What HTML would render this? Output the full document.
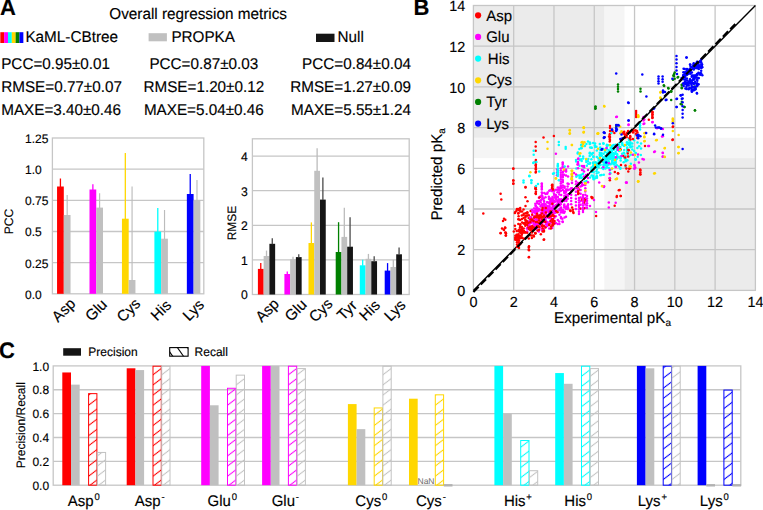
<!DOCTYPE html>
<html><head><meta charset="utf-8"><style>
html,body{margin:0;padding:0;background:#fff;overflow:hidden;}
svg{display:block;font-family:"Liberation Sans", sans-serif;text-rendering:geometricPrecision;}
text{stroke:#000;stroke-width:0.15px;}
</style></head><body>
<svg width="763" height="510" viewBox="0 0 763 510">
<rect width="763" height="510" fill="#fff"/>
<text transform="translate(0.10,15.30) scale(1,1.02)" font-size="22" text-anchor="start" font-weight="bold" fill="#000" >A</text>
<text transform="translate(109.30,18.90) scale(1,1.02)" font-size="15.3" text-anchor="start" font-weight="normal" fill="#000" >Overall regression metrics</text>
<rect x="0.30" y="32.20" width="3.88" height="10.80" fill="#ff0000" />
<rect x="4.13" y="32.20" width="3.88" height="10.80" fill="#ff00ff" />
<rect x="7.97" y="32.20" width="3.88" height="10.80" fill="#00ffff" />
<rect x="11.80" y="32.20" width="3.88" height="10.80" fill="#ffd700" />
<rect x="15.63" y="32.20" width="3.88" height="10.80" fill="#008000" />
<rect x="19.47" y="32.20" width="3.88" height="10.80" fill="#0000ff" />
<text transform="translate(25.40,42.40) scale(1,1.02)" font-size="15.3" text-anchor="start" font-weight="normal" fill="#000" >KaML-CBtree</text>
<rect x="148.60" y="33.20" width="18.30" height="8.10" fill="#c0c0c0" />
<text transform="translate(171.40,42.40) scale(1,1.02)" font-size="15.25" text-anchor="start" font-weight="normal" fill="#000" >PROPKA</text>
<rect x="316.00" y="33.70" width="18.50" height="8.30" fill="#151515" />
<text transform="translate(337.60,42.40) scale(1,1.02)" font-size="15.25" text-anchor="start" font-weight="normal" fill="#000" >Null</text>
<text transform="translate(1.20,68.60) scale(1,1.02)" font-size="15.25" text-anchor="start" font-weight="normal" fill="#000" >PCC=0.95±0.01</text>
<text transform="translate(203.80,68.60) scale(1,1.02)" font-size="15.25" text-anchor="middle" font-weight="normal" fill="#000" >PCC=0.87±0.03</text>
<text transform="translate(410.90,68.60) scale(1,1.02)" font-size="15.25" text-anchor="end" font-weight="normal" fill="#000" >PCC=0.84±0.04</text>
<text transform="translate(1.20,91.80) scale(1,1.02)" font-size="15.25" text-anchor="start" font-weight="normal" fill="#000" >RMSE=0.77±0.07</text>
<text transform="translate(203.80,91.80) scale(1,1.02)" font-size="15.25" text-anchor="middle" font-weight="normal" fill="#000" >RMSE=1.20±0.12</text>
<text transform="translate(410.90,91.80) scale(1,1.02)" font-size="15.25" text-anchor="end" font-weight="normal" fill="#000" >RMSE=1.27±0.09</text>
<text transform="translate(1.20,114.90) scale(1,1.02)" font-size="15.25" text-anchor="start" font-weight="normal" fill="#000" >MAXE=3.40±0.46</text>
<text transform="translate(203.80,114.90) scale(1,1.02)" font-size="15.25" text-anchor="middle" font-weight="normal" fill="#000" >MAXE=5.04±0.46</text>
<text transform="translate(410.90,114.90) scale(1,1.02)" font-size="15.25" text-anchor="end" font-weight="normal" fill="#000" >MAXE=5.55±1.24</text>
<line x1="52.40" y1="262.64" x2="203.80" y2="262.64" stroke="#c6c6c6" stroke-width="1.3" />
<line x1="52.40" y1="231.48" x2="203.80" y2="231.48" stroke="#c6c6c6" stroke-width="1.3" />
<line x1="52.40" y1="200.32" x2="203.80" y2="200.32" stroke="#c6c6c6" stroke-width="1.3" />
<line x1="52.40" y1="169.16" x2="203.80" y2="169.16" stroke="#c6c6c6" stroke-width="1.3" />
<rect x="52.40" y="138.00" width="151.40" height="155.80" fill="none" stroke="#c6c6c6" stroke-width="1.3"/>
<text transform="translate(25.00,298.70) scale(1,1.02)" font-size="12" text-anchor="start" font-weight="normal" fill="#000" >0.0</text>
<text transform="translate(25.00,267.54) scale(1,1.02)" font-size="12" text-anchor="start" font-weight="normal" fill="#000" >0.25</text>
<text transform="translate(25.00,236.38) scale(1,1.02)" font-size="12" text-anchor="start" font-weight="normal" fill="#000" >0.5</text>
<text transform="translate(25.00,205.22) scale(1,1.02)" font-size="12" text-anchor="start" font-weight="normal" fill="#000" >0.75</text>
<text transform="translate(25.00,174.06) scale(1,1.02)" font-size="12" text-anchor="start" font-weight="normal" fill="#000" >1.0</text>
<text transform="translate(25.00,142.90) scale(1,1.02)" font-size="12" text-anchor="start" font-weight="normal" fill="#000" >1.25</text>
<text transform="translate(13.3,221.5) rotate(-90) scale(1,1.02)" font-size="12" text-anchor="middle">PCC</text>
<rect x="57.05" y="186.50" width="6.75" height="107.30" fill="#ff0000" />
<line x1="60.42" y1="178.50" x2="60.42" y2="187.00" stroke="#ff0000" stroke-width="1.3" />
<rect x="63.80" y="215.00" width="6.75" height="78.80" fill="#c0c0c0" />
<line x1="67.17" y1="195.00" x2="67.17" y2="215.50" stroke="#bcbcbc" stroke-width="1.15" />
<rect x="89.50" y="189.50" width="6.75" height="104.30" fill="#ff00ff" />
<line x1="92.88" y1="184.20" x2="92.88" y2="190.00" stroke="#ff00ff" stroke-width="1.3" />
<rect x="96.25" y="207.60" width="6.75" height="86.20" fill="#c0c0c0" />
<line x1="99.62" y1="193.20" x2="99.62" y2="208.10" stroke="#bcbcbc" stroke-width="1.15" />
<rect x="121.95" y="218.70" width="6.75" height="75.10" fill="#ffd700" />
<line x1="125.32" y1="153.00" x2="125.32" y2="219.20" stroke="#ffd700" stroke-width="1.3" />
<rect x="128.70" y="280.00" width="6.75" height="13.80" fill="#c0c0c0" />
<line x1="132.07" y1="186.50" x2="132.07" y2="280.50" stroke="#bcbcbc" stroke-width="1.15" />
<rect x="154.40" y="231.60" width="6.75" height="62.20" fill="#00ffff" />
<line x1="157.78" y1="208.00" x2="157.78" y2="232.10" stroke="#00ffff" stroke-width="1.3" />
<rect x="161.15" y="238.70" width="6.75" height="55.10" fill="#c0c0c0" />
<line x1="164.53" y1="210.00" x2="164.53" y2="239.20" stroke="#bcbcbc" stroke-width="1.15" />
<rect x="186.85" y="194.00" width="6.75" height="99.80" fill="#0000ff" />
<line x1="190.23" y1="174.00" x2="190.23" y2="194.50" stroke="#0000ff" stroke-width="1.3" />
<rect x="193.60" y="200.00" width="6.75" height="93.80" fill="#c0c0c0" />
<line x1="196.98" y1="180.00" x2="196.98" y2="200.50" stroke="#bcbcbc" stroke-width="1.15" />
<text transform="translate(64.00,310.50) rotate(-45) scale(1,1.02)" font-size="15" text-anchor="middle" dominant-baseline="central">Asp</text>
<text transform="translate(96.45,310.50) rotate(-45) scale(1,1.02)" font-size="15" text-anchor="middle" dominant-baseline="central">Glu</text>
<text transform="translate(128.90,310.50) rotate(-45) scale(1,1.02)" font-size="15" text-anchor="middle" dominant-baseline="central">Cys</text>
<text transform="translate(161.35,310.50) rotate(-45) scale(1,1.02)" font-size="15" text-anchor="middle" dominant-baseline="central">His</text>
<text transform="translate(193.80,310.50) rotate(-45) scale(1,1.02)" font-size="15" text-anchor="middle" dominant-baseline="central">Lys</text>
<line x1="252.40" y1="259.90" x2="409.20" y2="259.90" stroke="#c6c6c6" stroke-width="1.3" />
<line x1="252.40" y1="225.30" x2="409.20" y2="225.30" stroke="#c6c6c6" stroke-width="1.3" />
<line x1="252.40" y1="190.70" x2="409.20" y2="190.70" stroke="#c6c6c6" stroke-width="1.3" />
<line x1="252.40" y1="156.10" x2="409.20" y2="156.10" stroke="#c6c6c6" stroke-width="1.3" />
<rect x="252.40" y="138.80" width="156.80" height="155.70" fill="none" stroke="#c6c6c6" stroke-width="1.3"/>
<text transform="translate(247.90,299.30) scale(1,1.02)" font-size="12.2" text-anchor="end" font-weight="normal" fill="#000" >0</text>
<text transform="translate(247.90,264.70) scale(1,1.02)" font-size="12.2" text-anchor="end" font-weight="normal" fill="#000" >1</text>
<text transform="translate(247.90,230.10) scale(1,1.02)" font-size="12.2" text-anchor="end" font-weight="normal" fill="#000" >2</text>
<text transform="translate(247.90,195.50) scale(1,1.02)" font-size="12.2" text-anchor="end" font-weight="normal" fill="#000" >3</text>
<text transform="translate(247.90,160.90) scale(1,1.02)" font-size="12.2" text-anchor="end" font-weight="normal" fill="#000" >4</text>
<text transform="translate(236.0,223.0) rotate(-90) scale(1,1.02)" font-size="12" text-anchor="middle">RMSE</text>
<rect x="257.90" y="268.90" width="5.75" height="25.60" fill="#ff0000" />
<line x1="260.77" y1="263.10" x2="260.77" y2="269.40" stroke="#ff0000" stroke-width="1.3" />
<rect x="263.65" y="256.00" width="5.75" height="38.50" fill="#c0c0c0" />
<line x1="266.52" y1="250.60" x2="266.52" y2="256.50" stroke="#bcbcbc" stroke-width="1.3" />
<rect x="269.40" y="243.80" width="5.75" height="50.70" fill="#151515" />
<line x1="272.27" y1="238.30" x2="272.27" y2="244.30" stroke="#4a4a4a" stroke-width="1.3" />
<rect x="284.40" y="274.00" width="5.75" height="20.50" fill="#ff00ff" />
<line x1="287.27" y1="271.40" x2="287.27" y2="274.50" stroke="#ff00ff" stroke-width="1.3" />
<rect x="290.15" y="259.20" width="5.75" height="35.30" fill="#c0c0c0" />
<line x1="293.02" y1="256.80" x2="293.02" y2="259.70" stroke="#bcbcbc" stroke-width="1.3" />
<rect x="295.90" y="257.10" width="5.75" height="37.40" fill="#151515" />
<line x1="298.77" y1="254.20" x2="298.77" y2="257.60" stroke="#4a4a4a" stroke-width="1.3" />
<rect x="308.50" y="243.00" width="5.75" height="51.50" fill="#ffd700" />
<line x1="311.38" y1="222.40" x2="311.38" y2="243.50" stroke="#ffd700" stroke-width="1.3" />
<rect x="314.25" y="170.80" width="5.75" height="123.70" fill="#c0c0c0" />
<line x1="317.12" y1="148.20" x2="317.12" y2="171.30" stroke="#bcbcbc" stroke-width="1.3" />
<rect x="320.00" y="199.60" width="5.75" height="94.90" fill="#151515" />
<line x1="322.88" y1="177.60" x2="322.88" y2="200.10" stroke="#4a4a4a" stroke-width="1.3" />
<rect x="335.70" y="252.00" width="5.75" height="42.50" fill="#008000" />
<line x1="338.57" y1="222.20" x2="338.57" y2="252.50" stroke="#008000" stroke-width="1.3" />
<rect x="341.45" y="236.90" width="5.75" height="57.60" fill="#c0c0c0" />
<line x1="344.32" y1="207.80" x2="344.32" y2="237.40" stroke="#bcbcbc" stroke-width="1.3" />
<rect x="347.20" y="246.70" width="5.75" height="47.80" fill="#151515" />
<line x1="350.07" y1="217.30" x2="350.07" y2="247.20" stroke="#4a4a4a" stroke-width="1.3" />
<rect x="359.80" y="265.30" width="5.75" height="29.20" fill="#00ffff" />
<line x1="362.68" y1="259.80" x2="362.68" y2="265.80" stroke="#00ffff" stroke-width="1.3" />
<rect x="365.55" y="258.80" width="5.75" height="35.70" fill="#c0c0c0" />
<line x1="368.43" y1="253.90" x2="368.43" y2="259.30" stroke="#bcbcbc" stroke-width="1.3" />
<rect x="371.30" y="261.20" width="5.75" height="33.30" fill="#151515" />
<line x1="374.18" y1="256.30" x2="374.18" y2="261.70" stroke="#4a4a4a" stroke-width="1.3" />
<rect x="384.70" y="270.60" width="5.75" height="23.90" fill="#0000ff" />
<line x1="387.57" y1="263.10" x2="387.57" y2="271.10" stroke="#0000ff" stroke-width="1.3" />
<rect x="390.45" y="267.00" width="5.75" height="27.50" fill="#c0c0c0" />
<line x1="393.32" y1="259.80" x2="393.32" y2="267.50" stroke="#bcbcbc" stroke-width="1.3" />
<rect x="396.20" y="254.30" width="5.75" height="40.20" fill="#151515" />
<line x1="399.07" y1="247.50" x2="399.07" y2="254.80" stroke="#4a4a4a" stroke-width="1.3" />
<text transform="translate(267.52,310.70) rotate(-45) scale(1,1.02)" font-size="15" text-anchor="middle" dominant-baseline="central">Asp</text>
<text transform="translate(296.12,310.70) rotate(-45) scale(1,1.02)" font-size="15" text-anchor="middle" dominant-baseline="central">Glu</text>
<text transform="translate(321.12,310.70) rotate(-45) scale(1,1.02)" font-size="15" text-anchor="middle" dominant-baseline="central">Cys</text>
<text transform="translate(347.32,310.70) rotate(-45) scale(1,1.02)" font-size="15" text-anchor="middle" dominant-baseline="central">Tyr</text>
<text transform="translate(370.03,310.70) rotate(-45) scale(1,1.02)" font-size="15" text-anchor="middle" dominant-baseline="central">His</text>
<text transform="translate(395.22,310.70) rotate(-45) scale(1,1.02)" font-size="15" text-anchor="middle" dominant-baseline="central">Lys</text>
<text transform="translate(413.60,15.30) scale(1,1.02)" font-size="22" text-anchor="start" font-weight="bold" fill="#000" >B</text>
<rect x="604.33" y="5.50" width="20.14" height="132.27" fill="#f5f5f5" />
<rect x="473.40" y="137.77" width="130.93" height="20.35" fill="#f5f5f5" />
<rect x="624.47" y="137.77" width="130.93" height="20.35" fill="#f5f5f5" />
<rect x="604.33" y="158.12" width="20.14" height="132.28" fill="#f5f5f5" />
<rect x="473.40" y="5.50" width="130.93" height="132.27" fill="#ebebeb" />
<rect x="624.47" y="158.12" width="130.93" height="132.28" fill="#ebebeb" />
<line x1="513.69" y1="5.50" x2="513.69" y2="290.40" stroke="#c6c6c6" stroke-width="1.3" />
<line x1="473.40" y1="249.70" x2="755.40" y2="249.70" stroke="#c6c6c6" stroke-width="1.3" />
<line x1="553.97" y1="5.50" x2="553.97" y2="290.40" stroke="#c6c6c6" stroke-width="1.3" />
<line x1="473.40" y1="209.00" x2="755.40" y2="209.00" stroke="#c6c6c6" stroke-width="1.3" />
<line x1="594.26" y1="5.50" x2="594.26" y2="290.40" stroke="#c6c6c6" stroke-width="1.3" />
<line x1="473.40" y1="168.30" x2="755.40" y2="168.30" stroke="#c6c6c6" stroke-width="1.3" />
<line x1="634.54" y1="5.50" x2="634.54" y2="290.40" stroke="#c6c6c6" stroke-width="1.3" />
<line x1="473.40" y1="127.60" x2="755.40" y2="127.60" stroke="#c6c6c6" stroke-width="1.3" />
<line x1="674.83" y1="5.50" x2="674.83" y2="290.40" stroke="#c6c6c6" stroke-width="1.3" />
<line x1="473.40" y1="86.90" x2="755.40" y2="86.90" stroke="#c6c6c6" stroke-width="1.3" />
<line x1="715.11" y1="5.50" x2="715.11" y2="290.40" stroke="#c6c6c6" stroke-width="1.3" />
<line x1="473.40" y1="46.20" x2="755.40" y2="46.20" stroke="#c6c6c6" stroke-width="1.3" />
<rect x="473.40" y="5.50" width="282.00" height="284.90" fill="none" stroke="#c6c6c6" stroke-width="1.3"/>
<text transform="translate(473.40,307.00) scale(1,1.02)" font-size="14.4" text-anchor="middle" font-weight="normal" fill="#000" >0</text>
<text transform="translate(465.20,296.00) scale(1,1.02)" font-size="14.4" text-anchor="end" font-weight="normal" fill="#000" >0</text>
<text transform="translate(513.69,307.00) scale(1,1.02)" font-size="14.4" text-anchor="middle" font-weight="normal" fill="#000" >2</text>
<text transform="translate(465.20,255.30) scale(1,1.02)" font-size="14.4" text-anchor="end" font-weight="normal" fill="#000" >2</text>
<text transform="translate(553.97,307.00) scale(1,1.02)" font-size="14.4" text-anchor="middle" font-weight="normal" fill="#000" >4</text>
<text transform="translate(465.20,214.60) scale(1,1.02)" font-size="14.4" text-anchor="end" font-weight="normal" fill="#000" >4</text>
<text transform="translate(594.26,307.00) scale(1,1.02)" font-size="14.4" text-anchor="middle" font-weight="normal" fill="#000" >6</text>
<text transform="translate(465.20,173.90) scale(1,1.02)" font-size="14.4" text-anchor="end" font-weight="normal" fill="#000" >6</text>
<text transform="translate(634.54,307.00) scale(1,1.02)" font-size="14.4" text-anchor="middle" font-weight="normal" fill="#000" >8</text>
<text transform="translate(465.20,133.20) scale(1,1.02)" font-size="14.4" text-anchor="end" font-weight="normal" fill="#000" >8</text>
<text transform="translate(674.83,307.00) scale(1,1.02)" font-size="14.4" text-anchor="middle" font-weight="normal" fill="#000" >10</text>
<text transform="translate(465.20,92.50) scale(1,1.02)" font-size="14.4" text-anchor="end" font-weight="normal" fill="#000" >10</text>
<text transform="translate(715.11,307.00) scale(1,1.02)" font-size="14.4" text-anchor="middle" font-weight="normal" fill="#000" >12</text>
<text transform="translate(465.20,51.80) scale(1,1.02)" font-size="14.4" text-anchor="end" font-weight="normal" fill="#000" >12</text>
<text transform="translate(755.40,307.00) scale(1,1.02)" font-size="14.4" text-anchor="middle" font-weight="normal" fill="#000" >14</text>
<text transform="translate(465.20,11.10) scale(1,1.02)" font-size="14.4" text-anchor="end" font-weight="normal" fill="#000" >14</text>
<text transform="translate(554.0,322.8) scale(1,1.02)" font-size="15.2">Experimental pK<tspan font-size="10" dy="3">a</tspan></text>
<text transform="translate(442.3,220.6) rotate(-90) scale(1,1.02)" font-size="15.2">Predicted pK<tspan font-size="10" dy="3">a</tspan></text>
<line x1="473.40" y1="290.40" x2="755.40" y2="5.50" stroke="#000" stroke-width="1.4" />
<g><circle cx="595.1" cy="143.5" r="1.25" fill="#00ffff"/><circle cx="576.2" cy="161.5" r="1.25" fill="#00ffff"/><circle cx="576.0" cy="160.1" r="1.25" fill="#00ffff"/><circle cx="601.6" cy="175.0" r="1.25" fill="#00ffff"/><circle cx="586.8" cy="165.7" r="1.25" fill="#00ffff"/><circle cx="612.3" cy="155.0" r="1.25" fill="#00ffff"/><circle cx="629.0" cy="144.9" r="1.25" fill="#00ffff"/><circle cx="617.1" cy="153.9" r="1.25" fill="#00ffff"/><circle cx="620.4" cy="156.4" r="1.25" fill="#00ffff"/><circle cx="613.6" cy="157.6" r="1.25" fill="#00ffff"/><circle cx="612.2" cy="161.0" r="1.25" fill="#00ffff"/><circle cx="624.2" cy="149.9" r="1.25" fill="#00ffff"/><circle cx="579.9" cy="156.0" r="1.25" fill="#00ffff"/><circle cx="581.1" cy="159.3" r="1.25" fill="#00ffff"/><circle cx="634.2" cy="151.1" r="1.25" fill="#00ffff"/><circle cx="613.7" cy="163.5" r="1.25" fill="#00ffff"/><circle cx="591.7" cy="154.5" r="1.25" fill="#00ffff"/><circle cx="581.3" cy="148.0" r="1.25" fill="#00ffff"/><circle cx="634.1" cy="140.3" r="1.25" fill="#00ffff"/><circle cx="632.3" cy="149.5" r="1.25" fill="#00ffff"/><circle cx="597.0" cy="177.7" r="1.25" fill="#00ffff"/><circle cx="581.2" cy="144.7" r="1.25" fill="#00ffff"/><circle cx="588.3" cy="159.1" r="1.25" fill="#00ffff"/><circle cx="598.7" cy="162.9" r="1.25" fill="#00ffff"/><circle cx="620.6" cy="160.5" r="1.25" fill="#00ffff"/><circle cx="599.9" cy="155.1" r="1.25" fill="#00ffff"/><circle cx="586.4" cy="144.1" r="1.25" fill="#00ffff"/><circle cx="577.7" cy="153.4" r="1.25" fill="#00ffff"/><circle cx="589.8" cy="152.7" r="1.25" fill="#00ffff"/><circle cx="580.0" cy="176.1" r="1.25" fill="#00ffff"/><circle cx="605.0" cy="159.0" r="1.25" fill="#00ffff"/><circle cx="577.9" cy="152.5" r="1.25" fill="#00ffff"/><circle cx="630.4" cy="144.0" r="1.25" fill="#00ffff"/><circle cx="589.7" cy="153.6" r="1.25" fill="#00ffff"/><circle cx="625.8" cy="161.3" r="1.25" fill="#00ffff"/><circle cx="595.2" cy="146.9" r="1.25" fill="#00ffff"/><circle cx="608.3" cy="153.1" r="1.25" fill="#00ffff"/><circle cx="596.5" cy="146.8" r="1.25" fill="#00ffff"/><circle cx="584.9" cy="146.0" r="1.25" fill="#00ffff"/><circle cx="625.4" cy="158.8" r="1.25" fill="#00ffff"/><circle cx="627.5" cy="152.0" r="1.25" fill="#00ffff"/><circle cx="640.8" cy="154.9" r="1.25" fill="#00ffff"/><circle cx="629.2" cy="143.3" r="1.25" fill="#00ffff"/><circle cx="637.7" cy="156.7" r="1.25" fill="#00ffff"/><circle cx="630.6" cy="146.3" r="1.25" fill="#00ffff"/><circle cx="591.7" cy="147.7" r="1.25" fill="#00ffff"/><circle cx="589.7" cy="156.0" r="1.25" fill="#00ffff"/><circle cx="635.8" cy="153.0" r="1.25" fill="#00ffff"/><circle cx="583.2" cy="158.6" r="1.25" fill="#00ffff"/><circle cx="610.3" cy="151.7" r="1.25" fill="#00ffff"/><circle cx="610.1" cy="173.0" r="1.25" fill="#00ffff"/><circle cx="611.9" cy="148.1" r="1.25" fill="#00ffff"/><circle cx="627.3" cy="160.2" r="1.25" fill="#00ffff"/><circle cx="615.4" cy="160.1" r="1.25" fill="#00ffff"/><circle cx="620.5" cy="157.6" r="1.25" fill="#00ffff"/><circle cx="583.2" cy="169.9" r="1.25" fill="#00ffff"/><circle cx="581.7" cy="177.6" r="1.25" fill="#00ffff"/><circle cx="586.4" cy="180.9" r="1.25" fill="#00ffff"/><circle cx="583.1" cy="156.6" r="1.25" fill="#00ffff"/><circle cx="594.9" cy="145.6" r="1.25" fill="#00ffff"/><circle cx="615.1" cy="160.4" r="1.25" fill="#00ffff"/><circle cx="579.4" cy="148.9" r="1.25" fill="#00ffff"/><circle cx="627.1" cy="149.1" r="1.25" fill="#00ffff"/><circle cx="590.2" cy="143.5" r="1.25" fill="#00ffff"/><circle cx="611.8" cy="169.1" r="1.25" fill="#00ffff"/><circle cx="576.3" cy="168.6" r="1.25" fill="#00ffff"/><circle cx="629.2" cy="140.4" r="1.25" fill="#00ffff"/><circle cx="576.3" cy="176.7" r="1.25" fill="#00ffff"/><circle cx="595.3" cy="162.3" r="1.25" fill="#00ffff"/><circle cx="589.9" cy="142.5" r="1.25" fill="#00ffff"/><circle cx="588.0" cy="141.6" r="1.25" fill="#00ffff"/><circle cx="593.2" cy="171.9" r="1.25" fill="#00ffff"/><circle cx="606.8" cy="144.8" r="1.25" fill="#00ffff"/><circle cx="623.7" cy="162.2" r="1.25" fill="#00ffff"/><circle cx="629.0" cy="156.6" r="1.25" fill="#00ffff"/><circle cx="630.7" cy="154.8" r="1.25" fill="#00ffff"/><circle cx="599.8" cy="152.7" r="1.25" fill="#00ffff"/><circle cx="589.7" cy="144.1" r="1.25" fill="#00ffff"/><circle cx="591.5" cy="147.8" r="1.25" fill="#00ffff"/><circle cx="603.5" cy="143.8" r="1.25" fill="#00ffff"/><circle cx="610.6" cy="147.9" r="1.25" fill="#00ffff"/><circle cx="593.0" cy="153.1" r="1.25" fill="#00ffff"/><circle cx="598.4" cy="158.6" r="1.25" fill="#00ffff"/><circle cx="586.2" cy="160.0" r="1.25" fill="#00ffff"/><circle cx="588.2" cy="163.8" r="1.25" fill="#00ffff"/><circle cx="625.7" cy="167.1" r="1.25" fill="#00ffff"/><circle cx="634.0" cy="154.7" r="1.25" fill="#00ffff"/><circle cx="641.0" cy="143.5" r="1.25" fill="#00ffff"/><circle cx="629.0" cy="143.0" r="1.25" fill="#00ffff"/><circle cx="630.9" cy="163.7" r="1.25" fill="#00ffff"/><circle cx="620.3" cy="168.8" r="1.25" fill="#00ffff"/><circle cx="579.7" cy="175.4" r="1.25" fill="#00ffff"/><circle cx="615.5" cy="165.7" r="1.25" fill="#00ffff"/><circle cx="625.6" cy="159.9" r="1.25" fill="#00ffff"/><circle cx="624.0" cy="146.1" r="1.25" fill="#00ffff"/><circle cx="605.4" cy="168.4" r="1.25" fill="#00ffff"/><circle cx="615.1" cy="166.5" r="1.25" fill="#00ffff"/><circle cx="581.5" cy="148.3" r="1.25" fill="#00ffff"/><circle cx="593.0" cy="163.0" r="1.25" fill="#00ffff"/><circle cx="620.4" cy="168.0" r="1.25" fill="#00ffff"/><circle cx="608.6" cy="158.2" r="1.25" fill="#00ffff"/><circle cx="579.5" cy="178.1" r="1.25" fill="#00ffff"/><circle cx="603.8" cy="174.7" r="1.25" fill="#00ffff"/><circle cx="603.3" cy="149.0" r="1.25" fill="#00ffff"/><circle cx="639.2" cy="146.3" r="1.25" fill="#00ffff"/><circle cx="581.7" cy="160.9" r="1.25" fill="#00ffff"/><circle cx="581.4" cy="174.7" r="1.25" fill="#00ffff"/><circle cx="635.5" cy="159.2" r="1.25" fill="#00ffff"/><circle cx="593.2" cy="143.1" r="1.25" fill="#00ffff"/><circle cx="593.0" cy="175.7" r="1.25" fill="#00ffff"/><circle cx="591.5" cy="153.8" r="1.25" fill="#00ffff"/><circle cx="601.5" cy="149.3" r="1.25" fill="#00ffff"/><circle cx="577.9" cy="175.4" r="1.25" fill="#00ffff"/><circle cx="637.4" cy="148.1" r="1.25" fill="#00ffff"/><circle cx="608.5" cy="145.3" r="1.25" fill="#00ffff"/><circle cx="610.0" cy="170.0" r="1.25" fill="#00ffff"/><circle cx="624.1" cy="157.5" r="1.25" fill="#00ffff"/><circle cx="616.8" cy="149.8" r="1.25" fill="#00ffff"/><circle cx="637.5" cy="142.4" r="1.25" fill="#00ffff"/><circle cx="596.8" cy="150.4" r="1.25" fill="#00ffff"/><circle cx="641.0" cy="148.6" r="1.25" fill="#00ffff"/><circle cx="593.2" cy="162.5" r="1.25" fill="#00ffff"/><circle cx="582.9" cy="144.0" r="1.25" fill="#00ffff"/><circle cx="635.6" cy="159.7" r="1.25" fill="#00ffff"/><circle cx="581.2" cy="145.5" r="1.25" fill="#00ffff"/><circle cx="590.1" cy="163.0" r="1.25" fill="#00ffff"/><circle cx="625.5" cy="155.7" r="1.25" fill="#00ffff"/><circle cx="608.5" cy="154.1" r="1.25" fill="#00ffff"/><circle cx="579.8" cy="160.0" r="1.25" fill="#00ffff"/><circle cx="632.3" cy="146.6" r="1.25" fill="#00ffff"/><circle cx="612.0" cy="160.8" r="1.25" fill="#00ffff"/><circle cx="610.4" cy="154.4" r="1.25" fill="#00ffff"/><circle cx="615.5" cy="144.8" r="1.25" fill="#00ffff"/><circle cx="619.1" cy="146.4" r="1.25" fill="#00ffff"/><circle cx="610.1" cy="158.8" r="1.25" fill="#00ffff"/><circle cx="591.9" cy="172.1" r="1.25" fill="#00ffff"/><circle cx="600.3" cy="154.2" r="1.25" fill="#00ffff"/><circle cx="596.4" cy="171.3" r="1.25" fill="#00ffff"/><circle cx="607.2" cy="152.7" r="1.25" fill="#00ffff"/><circle cx="599.9" cy="159.9" r="1.25" fill="#00ffff"/><circle cx="613.8" cy="162.7" r="1.25" fill="#00ffff"/><circle cx="612.0" cy="154.9" r="1.25" fill="#00ffff"/><circle cx="596.5" cy="164.2" r="1.25" fill="#00ffff"/><circle cx="606.8" cy="157.9" r="1.25" fill="#00ffff"/><circle cx="613.5" cy="145.1" r="1.25" fill="#00ffff"/><circle cx="618.9" cy="166.4" r="1.25" fill="#00ffff"/><circle cx="608.6" cy="158.5" r="1.25" fill="#00ffff"/><circle cx="600.0" cy="158.4" r="1.25" fill="#00ffff"/><circle cx="588.0" cy="161.3" r="1.25" fill="#00ffff"/><circle cx="618.8" cy="148.3" r="1.25" fill="#00ffff"/><circle cx="603.7" cy="157.5" r="1.25" fill="#00ffff"/><circle cx="601.6" cy="153.3" r="1.25" fill="#00ffff"/><circle cx="617.3" cy="147.4" r="1.25" fill="#00ffff"/><circle cx="612.2" cy="158.8" r="1.25" fill="#00ffff"/><circle cx="610.3" cy="173.5" r="1.25" fill="#00ffff"/><circle cx="613.7" cy="156.7" r="1.25" fill="#00ffff"/><circle cx="586.3" cy="162.0" r="1.25" fill="#00ffff"/><circle cx="603.8" cy="164.4" r="1.25" fill="#00ffff"/><circle cx="611.7" cy="155.8" r="1.25" fill="#00ffff"/><circle cx="590.2" cy="147.6" r="1.25" fill="#00ffff"/><circle cx="607.2" cy="162.4" r="1.25" fill="#00ffff"/><circle cx="607.0" cy="156.1" r="1.25" fill="#00ffff"/><circle cx="603.4" cy="167.0" r="1.25" fill="#00ffff"/><circle cx="608.5" cy="156.9" r="1.25" fill="#00ffff"/><circle cx="613.6" cy="149.4" r="1.25" fill="#00ffff"/><circle cx="620.4" cy="146.9" r="1.25" fill="#00ffff"/><circle cx="611.9" cy="149.7" r="1.25" fill="#00ffff"/><circle cx="610.2" cy="154.3" r="1.25" fill="#00ffff"/><circle cx="612.3" cy="153.6" r="1.25" fill="#00ffff"/><circle cx="613.9" cy="164.2" r="1.25" fill="#00ffff"/><circle cx="607.2" cy="164.1" r="1.25" fill="#00ffff"/><circle cx="600.2" cy="161.1" r="1.25" fill="#00ffff"/><circle cx="606.6" cy="163.3" r="1.25" fill="#00ffff"/><circle cx="600.2" cy="147.5" r="1.25" fill="#00ffff"/><circle cx="610.1" cy="154.5" r="1.25" fill="#00ffff"/><circle cx="603.5" cy="165.0" r="1.25" fill="#00ffff"/><circle cx="584.6" cy="181.7" r="1.25" fill="#00ffff"/><circle cx="607.1" cy="145.3" r="1.25" fill="#00ffff"/><circle cx="605.1" cy="149.7" r="1.25" fill="#00ffff"/><circle cx="607.1" cy="164.6" r="1.25" fill="#00ffff"/><circle cx="615.6" cy="152.0" r="1.25" fill="#00ffff"/><circle cx="610.0" cy="158.4" r="1.25" fill="#00ffff"/><circle cx="598.7" cy="164.8" r="1.25" fill="#00ffff"/><circle cx="613.7" cy="153.8" r="1.25" fill="#00ffff"/><circle cx="601.6" cy="155.8" r="1.25" fill="#00ffff"/><circle cx="598.5" cy="172.5" r="1.25" fill="#00ffff"/><circle cx="600.2" cy="149.7" r="1.25" fill="#00ffff"/><circle cx="627.2" cy="147.4" r="1.25" fill="#00ffff"/><circle cx="596.8" cy="164.8" r="1.25" fill="#00ffff"/><circle cx="613.5" cy="157.3" r="1.25" fill="#00ffff"/><circle cx="627.3" cy="151.1" r="1.25" fill="#00ffff"/><circle cx="607.2" cy="165.4" r="1.25" fill="#00ffff"/><circle cx="600.3" cy="164.6" r="1.25" fill="#00ffff"/><circle cx="579.5" cy="165.8" r="1.25" fill="#00ffff"/><circle cx="590.1" cy="177.5" r="1.25" fill="#00ffff"/><circle cx="610.2" cy="153.8" r="1.25" fill="#00ffff"/><circle cx="615.7" cy="153.7" r="1.25" fill="#00ffff"/><circle cx="583.0" cy="173.7" r="1.25" fill="#00ffff"/><circle cx="611.9" cy="146.1" r="1.25" fill="#00ffff"/><circle cx="603.3" cy="143.3" r="1.25" fill="#00ffff"/><circle cx="593.1" cy="166.1" r="1.25" fill="#00ffff"/><circle cx="605.0" cy="162.6" r="1.25" fill="#00ffff"/><circle cx="612.1" cy="162.7" r="1.25" fill="#00ffff"/><circle cx="608.5" cy="157.1" r="1.25" fill="#00ffff"/><circle cx="603.4" cy="157.7" r="1.25" fill="#00ffff"/><circle cx="620.5" cy="158.2" r="1.25" fill="#00ffff"/><circle cx="613.6" cy="153.2" r="1.25" fill="#00ffff"/><circle cx="591.4" cy="169.7" r="1.25" fill="#00ffff"/><circle cx="622.1" cy="153.7" r="1.25" fill="#00ffff"/><circle cx="608.9" cy="162.2" r="1.25" fill="#00ffff"/><circle cx="606.8" cy="166.9" r="1.25" fill="#00ffff"/><circle cx="593.6" cy="179.2" r="1.25" fill="#00ffff"/><circle cx="605.3" cy="163.6" r="1.25" fill="#00ffff"/><circle cx="608.8" cy="157.1" r="1.25" fill="#00ffff"/><circle cx="593.2" cy="177.8" r="1.25" fill="#00ffff"/><circle cx="613.5" cy="145.4" r="1.25" fill="#00ffff"/><circle cx="622.3" cy="144.1" r="1.25" fill="#00ffff"/><circle cx="610.4" cy="152.2" r="1.25" fill="#00ffff"/><circle cx="603.3" cy="169.0" r="1.25" fill="#00ffff"/><circle cx="610.6" cy="164.3" r="1.25" fill="#00ffff"/><circle cx="620.7" cy="150.3" r="1.25" fill="#00ffff"/><circle cx="613.5" cy="149.6" r="1.25" fill="#00ffff"/><circle cx="623.7" cy="152.8" r="1.25" fill="#00ffff"/><circle cx="595.2" cy="178.2" r="1.25" fill="#00ffff"/><circle cx="613.6" cy="156.4" r="1.25" fill="#00ffff"/><circle cx="596.5" cy="166.9" r="1.25" fill="#00ffff"/><circle cx="615.6" cy="162.9" r="1.25" fill="#00ffff"/><circle cx="622.4" cy="145.1" r="1.25" fill="#00ffff"/><circle cx="628.8" cy="139.1" r="1.25" fill="#00ffff"/><circle cx="595.1" cy="165.0" r="1.25" fill="#00ffff"/><circle cx="608.6" cy="164.6" r="1.25" fill="#00ffff"/><circle cx="596.7" cy="173.5" r="1.25" fill="#00ffff"/><circle cx="607.0" cy="159.5" r="1.25" fill="#00ffff"/><circle cx="600.3" cy="164.9" r="1.25" fill="#00ffff"/><circle cx="605.0" cy="150.6" r="1.25" fill="#00ffff"/><circle cx="603.3" cy="162.3" r="1.25" fill="#00ffff"/><circle cx="605.2" cy="161.9" r="1.25" fill="#00ffff"/><circle cx="605.3" cy="160.0" r="1.25" fill="#00ffff"/><circle cx="625.8" cy="145.1" r="1.25" fill="#00ffff"/><circle cx="605.2" cy="160.4" r="1.25" fill="#00ffff"/><circle cx="608.9" cy="151.9" r="1.25" fill="#00ffff"/><circle cx="624.2" cy="153.4" r="1.25" fill="#00ffff"/><circle cx="619.0" cy="149.4" r="1.25" fill="#00ffff"/><circle cx="627.2" cy="151.7" r="1.25" fill="#00ffff"/><circle cx="608.6" cy="152.6" r="1.25" fill="#00ffff"/><circle cx="613.6" cy="149.4" r="1.25" fill="#00ffff"/><circle cx="598.1" cy="166.2" r="1.25" fill="#00ffff"/><circle cx="612.3" cy="156.5" r="1.25" fill="#00ffff"/><circle cx="591.4" cy="159.2" r="1.25" fill="#00ffff"/><circle cx="606.9" cy="154.0" r="1.25" fill="#00ffff"/><circle cx="598.6" cy="160.8" r="1.25" fill="#00ffff"/><circle cx="593.5" cy="168.4" r="1.25" fill="#00ffff"/><circle cx="596.6" cy="176.2" r="1.25" fill="#00ffff"/><circle cx="622.1" cy="142.8" r="1.25" fill="#00ffff"/><circle cx="605.0" cy="151.8" r="1.25" fill="#00ffff"/><circle cx="607.1" cy="155.9" r="1.25" fill="#00ffff"/><circle cx="614.0" cy="162.9" r="1.25" fill="#00ffff"/><circle cx="591.5" cy="167.5" r="1.25" fill="#00ffff"/><circle cx="610.1" cy="154.2" r="1.25" fill="#00ffff"/><circle cx="596.7" cy="162.7" r="1.25" fill="#00ffff"/><circle cx="611.8" cy="151.3" r="1.25" fill="#00ffff"/><circle cx="604.9" cy="157.6" r="1.25" fill="#00ffff"/><circle cx="606.8" cy="161.5" r="1.25" fill="#00ffff"/><circle cx="615.5" cy="159.8" r="1.25" fill="#00ffff"/><circle cx="617.1" cy="158.0" r="1.25" fill="#00ffff"/><circle cx="630.5" cy="147.3" r="1.25" fill="#00ffff"/><circle cx="612.1" cy="155.6" r="1.25" fill="#00ffff"/><circle cx="608.7" cy="157.7" r="1.25" fill="#00ffff"/><circle cx="596.8" cy="164.7" r="1.25" fill="#00ffff"/><circle cx="616.8" cy="165.2" r="1.25" fill="#00ffff"/><circle cx="596.5" cy="166.8" r="1.25" fill="#00ffff"/><circle cx="627.0" cy="142.2" r="1.25" fill="#00ffff"/><circle cx="581.2" cy="178.0" r="1.25" fill="#00ffff"/><circle cx="617.1" cy="157.5" r="1.25" fill="#00ffff"/><circle cx="589.7" cy="163.7" r="1.25" fill="#00ffff"/><circle cx="608.3" cy="163.3" r="1.25" fill="#00ffff"/><circle cx="591.6" cy="175.4" r="1.25" fill="#00ffff"/><circle cx="610.1" cy="158.1" r="1.25" fill="#00ffff"/><circle cx="618.9" cy="148.5" r="1.25" fill="#00ffff"/><circle cx="593.4" cy="156.9" r="1.25" fill="#00ffff"/><circle cx="612.0" cy="163.3" r="1.25" fill="#00ffff"/><circle cx="606.8" cy="149.3" r="1.25" fill="#00ffff"/><circle cx="582.9" cy="166.4" r="1.25" fill="#00ffff"/><circle cx="608.5" cy="155.2" r="1.25" fill="#00ffff"/><circle cx="615.7" cy="161.9" r="1.25" fill="#00ffff"/><circle cx="603.7" cy="153.8" r="1.25" fill="#00ffff"/><circle cx="607.1" cy="163.2" r="1.25" fill="#00ffff"/><circle cx="593.4" cy="163.7" r="1.25" fill="#00ffff"/><circle cx="619.0" cy="144.6" r="1.25" fill="#00ffff"/><circle cx="593.3" cy="156.5" r="1.25" fill="#00ffff"/><circle cx="600.0" cy="154.2" r="1.25" fill="#00ffff"/><circle cx="616.8" cy="158.8" r="1.25" fill="#00ffff"/><circle cx="611.7" cy="150.8" r="1.25" fill="#00ffff"/><circle cx="632.3" cy="143.4" r="1.25" fill="#00ffff"/><circle cx="610.0" cy="156.1" r="1.25" fill="#00ffff"/><circle cx="596.8" cy="157.1" r="1.25" fill="#00ffff"/><circle cx="607.0" cy="155.9" r="1.25" fill="#00ffff"/><circle cx="600.3" cy="175.2" r="1.25" fill="#00ffff"/><circle cx="610.5" cy="153.1" r="1.25" fill="#00ffff"/><circle cx="611.7" cy="157.4" r="1.25" fill="#00ffff"/><circle cx="610.2" cy="145.3" r="1.25" fill="#00ffff"/><circle cx="613.9" cy="154.1" r="1.25" fill="#00ffff"/><circle cx="613.7" cy="157.7" r="1.25" fill="#00ffff"/><circle cx="617.0" cy="149.3" r="1.25" fill="#00ffff"/><circle cx="601.7" cy="155.5" r="1.25" fill="#00ffff"/><circle cx="619.0" cy="143.7" r="1.25" fill="#00ffff"/><circle cx="605.1" cy="158.3" r="1.25" fill="#00ffff"/><circle cx="593.2" cy="176.4" r="1.25" fill="#00ffff"/><circle cx="599.9" cy="156.1" r="1.25" fill="#00ffff"/><circle cx="610.5" cy="152.7" r="1.25" fill="#00ffff"/><circle cx="608.4" cy="156.9" r="1.25" fill="#00ffff"/><circle cx="599.8" cy="144.1" r="1.25" fill="#00ffff"/><circle cx="596.9" cy="169.6" r="1.25" fill="#00ffff"/><circle cx="617.0" cy="156.2" r="1.25" fill="#00ffff"/><circle cx="608.9" cy="150.3" r="1.25" fill="#00ffff"/><circle cx="608.7" cy="161.2" r="1.25" fill="#00ffff"/><circle cx="603.6" cy="162.1" r="1.25" fill="#00ffff"/><circle cx="627.4" cy="144.0" r="1.25" fill="#00ffff"/><circle cx="606.8" cy="148.2" r="1.25" fill="#00ffff"/><circle cx="602.0" cy="167.9" r="1.25" fill="#00ffff"/><circle cx="630.4" cy="142.2" r="1.25" fill="#00ffff"/><circle cx="613.9" cy="157.7" r="1.25" fill="#00ffff"/><circle cx="598.6" cy="167.3" r="1.25" fill="#00ffff"/><circle cx="613.7" cy="160.1" r="1.25" fill="#00ffff"/><circle cx="601.9" cy="150.0" r="1.25" fill="#00ffff"/><circle cx="605.0" cy="165.3" r="1.25" fill="#00ffff"/><circle cx="617.3" cy="155.1" r="1.25" fill="#00ffff"/><circle cx="601.8" cy="160.9" r="1.25" fill="#00ffff"/><circle cx="611.8" cy="149.2" r="1.25" fill="#00ffff"/><circle cx="608.8" cy="168.0" r="1.25" fill="#00ffff"/><circle cx="613.5" cy="155.4" r="1.25" fill="#00ffff"/><circle cx="606.7" cy="167.2" r="1.25" fill="#00ffff"/><circle cx="607.2" cy="162.5" r="1.25" fill="#00ffff"/><circle cx="605.5" cy="155.9" r="1.25" fill="#00ffff"/><circle cx="619.1" cy="150.9" r="1.25" fill="#00ffff"/><circle cx="606.9" cy="146.1" r="1.25" fill="#00ffff"/><circle cx="618.6" cy="157.2" r="1.25" fill="#00ffff"/><circle cx="615.1" cy="157.9" r="1.25" fill="#00ffff"/><circle cx="596.8" cy="176.2" r="1.25" fill="#00ffff"/><circle cx="593.3" cy="172.0" r="1.25" fill="#00ffff"/><circle cx="516.7" cy="231.0" r="1.25" fill="#ff0000"/><circle cx="518.7" cy="235.7" r="1.25" fill="#ff0000"/><circle cx="525.3" cy="232.5" r="1.25" fill="#ff0000"/><circle cx="520.0" cy="232.0" r="1.25" fill="#ff0000"/><circle cx="522.0" cy="238.0" r="1.25" fill="#ff0000"/><circle cx="525.3" cy="217.3" r="1.25" fill="#ff0000"/><circle cx="521.8" cy="231.7" r="1.25" fill="#ff0000"/><circle cx="523.8" cy="213.8" r="1.25" fill="#ff0000"/><circle cx="530.2" cy="227.7" r="1.25" fill="#ff0000"/><circle cx="523.7" cy="228.6" r="1.25" fill="#ff0000"/><circle cx="523.8" cy="232.4" r="1.25" fill="#ff0000"/><circle cx="523.9" cy="223.5" r="1.25" fill="#ff0000"/><circle cx="518.4" cy="234.2" r="1.25" fill="#ff0000"/><circle cx="527.3" cy="212.3" r="1.25" fill="#ff0000"/><circle cx="520.1" cy="209.7" r="1.25" fill="#ff0000"/><circle cx="520.2" cy="208.0" r="1.25" fill="#ff0000"/><circle cx="521.8" cy="234.7" r="1.25" fill="#ff0000"/><circle cx="518.6" cy="216.3" r="1.25" fill="#ff0000"/><circle cx="530.2" cy="228.1" r="1.25" fill="#ff0000"/><circle cx="528.5" cy="222.8" r="1.25" fill="#ff0000"/><circle cx="517.0" cy="237.8" r="1.25" fill="#ff0000"/><circle cx="525.3" cy="225.8" r="1.25" fill="#ff0000"/><circle cx="518.4" cy="245.1" r="1.25" fill="#ff0000"/><circle cx="521.9" cy="219.0" r="1.25" fill="#ff0000"/><circle cx="516.7" cy="240.0" r="1.25" fill="#ff0000"/><circle cx="528.6" cy="217.9" r="1.25" fill="#ff0000"/><circle cx="518.3" cy="224.1" r="1.25" fill="#ff0000"/><circle cx="518.5" cy="219.3" r="1.25" fill="#ff0000"/><circle cx="522.0" cy="232.4" r="1.25" fill="#ff0000"/><circle cx="520.4" cy="243.7" r="1.25" fill="#ff0000"/><circle cx="515.3" cy="239.8" r="1.25" fill="#ff0000"/><circle cx="527.2" cy="213.0" r="1.25" fill="#ff0000"/><circle cx="514.9" cy="213.1" r="1.25" fill="#ff0000"/><circle cx="526.8" cy="221.0" r="1.25" fill="#ff0000"/><circle cx="528.8" cy="215.2" r="1.25" fill="#ff0000"/><circle cx="528.6" cy="229.1" r="1.25" fill="#ff0000"/><circle cx="518.5" cy="212.9" r="1.25" fill="#ff0000"/><circle cx="514.9" cy="225.7" r="1.25" fill="#ff0000"/><circle cx="521.9" cy="226.9" r="1.25" fill="#ff0000"/><circle cx="522.0" cy="229.4" r="1.25" fill="#ff0000"/><circle cx="528.7" cy="222.1" r="1.25" fill="#ff0000"/><circle cx="530.4" cy="227.4" r="1.25" fill="#ff0000"/><circle cx="525.5" cy="220.7" r="1.25" fill="#ff0000"/><circle cx="520.2" cy="226.0" r="1.25" fill="#ff0000"/><circle cx="527.0" cy="215.7" r="1.25" fill="#ff0000"/><circle cx="522.1" cy="229.1" r="1.25" fill="#ff0000"/><circle cx="518.4" cy="239.8" r="1.25" fill="#ff0000"/><circle cx="523.6" cy="218.1" r="1.25" fill="#ff0000"/><circle cx="520.1" cy="219.9" r="1.25" fill="#ff0000"/><circle cx="523.8" cy="232.3" r="1.25" fill="#ff0000"/><circle cx="515.3" cy="235.7" r="1.25" fill="#ff0000"/><circle cx="523.5" cy="209.4" r="1.25" fill="#ff0000"/><circle cx="525.4" cy="215.8" r="1.25" fill="#ff0000"/><circle cx="521.7" cy="237.2" r="1.25" fill="#ff0000"/><circle cx="517.0" cy="208.9" r="1.25" fill="#ff0000"/><circle cx="518.5" cy="219.3" r="1.25" fill="#ff0000"/><circle cx="520.3" cy="224.3" r="1.25" fill="#ff0000"/><circle cx="515.3" cy="212.1" r="1.25" fill="#ff0000"/><circle cx="522.0" cy="211.5" r="1.25" fill="#ff0000"/><circle cx="518.2" cy="213.4" r="1.25" fill="#ff0000"/><circle cx="530.6" cy="210.9" r="1.25" fill="#ff0000"/><circle cx="518.3" cy="236.1" r="1.25" fill="#ff0000"/><circle cx="515.2" cy="237.7" r="1.25" fill="#ff0000"/><circle cx="530.7" cy="217.4" r="1.25" fill="#ff0000"/><circle cx="520.0" cy="235.9" r="1.25" fill="#ff0000"/><circle cx="528.4" cy="226.5" r="1.25" fill="#ff0000"/><circle cx="520.2" cy="229.9" r="1.25" fill="#ff0000"/><circle cx="525.5" cy="213.2" r="1.25" fill="#ff0000"/><circle cx="520.3" cy="232.7" r="1.25" fill="#ff0000"/><circle cx="522.1" cy="222.5" r="1.25" fill="#ff0000"/><circle cx="518.8" cy="209.9" r="1.25" fill="#ff0000"/><circle cx="525.3" cy="219.5" r="1.25" fill="#ff0000"/><circle cx="528.8" cy="222.2" r="1.25" fill="#ff0000"/><circle cx="522.1" cy="230.4" r="1.25" fill="#ff0000"/><circle cx="518.7" cy="240.7" r="1.25" fill="#ff0000"/><circle cx="515.3" cy="229.1" r="1.25" fill="#ff0000"/><circle cx="517.1" cy="236.8" r="1.25" fill="#ff0000"/><circle cx="518.6" cy="231.2" r="1.25" fill="#ff0000"/><circle cx="521.8" cy="215.6" r="1.25" fill="#ff0000"/><circle cx="515.3" cy="239.0" r="1.25" fill="#ff0000"/><circle cx="518.7" cy="230.1" r="1.25" fill="#ff0000"/><circle cx="528.7" cy="227.9" r="1.25" fill="#ff0000"/><circle cx="523.4" cy="214.9" r="1.25" fill="#ff0000"/><circle cx="516.7" cy="234.8" r="1.25" fill="#ff0000"/><circle cx="523.6" cy="223.2" r="1.25" fill="#ff0000"/><circle cx="517.1" cy="209.2" r="1.25" fill="#ff0000"/><circle cx="520.3" cy="211.6" r="1.25" fill="#ff0000"/><circle cx="527.1" cy="213.6" r="1.25" fill="#ff0000"/><circle cx="519.9" cy="227.8" r="1.25" fill="#ff0000"/><circle cx="521.8" cy="229.6" r="1.25" fill="#ff0000"/><circle cx="527.3" cy="224.1" r="1.25" fill="#ff0000"/><circle cx="518.3" cy="209.0" r="1.25" fill="#ff0000"/><circle cx="516.5" cy="210.8" r="1.25" fill="#ff0000"/><circle cx="525.1" cy="223.0" r="1.25" fill="#ff0000"/><circle cx="530.4" cy="217.5" r="1.25" fill="#ff0000"/><circle cx="543.8" cy="206.1" r="1.25" fill="#ff00ff"/><circle cx="528.8" cy="222.0" r="1.25" fill="#ff00ff"/><circle cx="534.1" cy="220.5" r="1.25" fill="#ff00ff"/><circle cx="556.0" cy="199.0" r="1.25" fill="#ff00ff"/><circle cx="559.2" cy="190.0" r="1.25" fill="#ff00ff"/><circle cx="535.7" cy="228.9" r="1.25" fill="#ff00ff"/><circle cx="564.4" cy="191.6" r="1.25" fill="#ff00ff"/><circle cx="530.6" cy="228.7" r="1.25" fill="#ff00ff"/><circle cx="554.1" cy="206.3" r="1.25" fill="#ff00ff"/><circle cx="561.1" cy="207.4" r="1.25" fill="#ff00ff"/><circle cx="557.4" cy="211.0" r="1.25" fill="#ff00ff"/><circle cx="564.3" cy="197.5" r="1.25" fill="#ff00ff"/><circle cx="540.4" cy="227.4" r="1.25" fill="#ff00ff"/><circle cx="555.9" cy="194.9" r="1.25" fill="#ff00ff"/><circle cx="566.0" cy="189.6" r="1.25" fill="#ff00ff"/><circle cx="564.5" cy="187.7" r="1.25" fill="#ff00ff"/><circle cx="538.6" cy="231.0" r="1.25" fill="#ff00ff"/><circle cx="560.8" cy="201.0" r="1.25" fill="#ff00ff"/><circle cx="535.7" cy="205.5" r="1.25" fill="#ff00ff"/><circle cx="535.3" cy="211.9" r="1.25" fill="#ff00ff"/><circle cx="533.9" cy="221.2" r="1.25" fill="#ff00ff"/><circle cx="552.4" cy="208.3" r="1.25" fill="#ff00ff"/><circle cx="535.6" cy="213.8" r="1.25" fill="#ff00ff"/><circle cx="560.8" cy="212.4" r="1.25" fill="#ff00ff"/><circle cx="530.3" cy="219.4" r="1.25" fill="#ff00ff"/><circle cx="557.8" cy="187.6" r="1.25" fill="#ff00ff"/><circle cx="540.8" cy="224.6" r="1.25" fill="#ff00ff"/><circle cx="547.3" cy="226.0" r="1.25" fill="#ff00ff"/><circle cx="535.4" cy="224.1" r="1.25" fill="#ff00ff"/><circle cx="549.2" cy="190.7" r="1.25" fill="#ff00ff"/><circle cx="557.8" cy="202.9" r="1.25" fill="#ff00ff"/><circle cx="530.7" cy="226.0" r="1.25" fill="#ff00ff"/><circle cx="547.4" cy="209.1" r="1.25" fill="#ff00ff"/><circle cx="536.9" cy="223.4" r="1.25" fill="#ff00ff"/><circle cx="530.2" cy="217.9" r="1.25" fill="#ff00ff"/><circle cx="548.9" cy="218.0" r="1.25" fill="#ff00ff"/><circle cx="562.4" cy="218.7" r="1.25" fill="#ff00ff"/><circle cx="532.3" cy="212.8" r="1.25" fill="#ff00ff"/><circle cx="533.9" cy="211.9" r="1.25" fill="#ff00ff"/><circle cx="534.1" cy="223.8" r="1.25" fill="#ff00ff"/><circle cx="544.2" cy="204.8" r="1.25" fill="#ff00ff"/><circle cx="549.4" cy="203.6" r="1.25" fill="#ff00ff"/><circle cx="559.1" cy="200.9" r="1.25" fill="#ff00ff"/><circle cx="540.9" cy="205.5" r="1.25" fill="#ff00ff"/><circle cx="562.7" cy="187.5" r="1.25" fill="#ff00ff"/><circle cx="543.9" cy="214.7" r="1.25" fill="#ff00ff"/><circle cx="554.4" cy="223.0" r="1.25" fill="#ff00ff"/><circle cx="564.5" cy="186.6" r="1.25" fill="#ff00ff"/><circle cx="538.8" cy="216.9" r="1.25" fill="#ff00ff"/><circle cx="549.2" cy="228.4" r="1.25" fill="#ff00ff"/><circle cx="537.2" cy="209.5" r="1.25" fill="#ff00ff"/><circle cx="566.0" cy="198.5" r="1.25" fill="#ff00ff"/><circle cx="554.3" cy="190.7" r="1.25" fill="#ff00ff"/><circle cx="567.7" cy="209.1" r="1.25" fill="#ff00ff"/><circle cx="547.2" cy="210.1" r="1.25" fill="#ff00ff"/><circle cx="543.8" cy="198.6" r="1.25" fill="#ff00ff"/><circle cx="552.6" cy="211.8" r="1.25" fill="#ff00ff"/><circle cx="535.5" cy="218.4" r="1.25" fill="#ff00ff"/><circle cx="550.8" cy="213.8" r="1.25" fill="#ff00ff"/><circle cx="540.4" cy="196.4" r="1.25" fill="#ff00ff"/><circle cx="549.2" cy="203.0" r="1.25" fill="#ff00ff"/><circle cx="537.2" cy="211.2" r="1.25" fill="#ff00ff"/><circle cx="538.8" cy="231.4" r="1.25" fill="#ff00ff"/><circle cx="559.0" cy="192.5" r="1.25" fill="#ff00ff"/><circle cx="564.1" cy="205.7" r="1.25" fill="#ff00ff"/><circle cx="544.1" cy="205.7" r="1.25" fill="#ff00ff"/><circle cx="557.5" cy="192.3" r="1.25" fill="#ff00ff"/><circle cx="542.4" cy="216.7" r="1.25" fill="#ff00ff"/><circle cx="557.8" cy="219.9" r="1.25" fill="#ff00ff"/><circle cx="547.5" cy="221.9" r="1.25" fill="#ff00ff"/><circle cx="566.3" cy="191.0" r="1.25" fill="#ff00ff"/><circle cx="544.2" cy="221.8" r="1.25" fill="#ff00ff"/><circle cx="552.5" cy="202.8" r="1.25" fill="#ff00ff"/><circle cx="545.6" cy="219.0" r="1.25" fill="#ff00ff"/><circle cx="543.9" cy="211.1" r="1.25" fill="#ff00ff"/><circle cx="540.8" cy="222.0" r="1.25" fill="#ff00ff"/><circle cx="547.2" cy="205.9" r="1.25" fill="#ff00ff"/><circle cx="540.8" cy="224.6" r="1.25" fill="#ff00ff"/><circle cx="567.8" cy="194.6" r="1.25" fill="#ff00ff"/><circle cx="551.1" cy="208.4" r="1.25" fill="#ff00ff"/><circle cx="559.6" cy="210.3" r="1.25" fill="#ff00ff"/><circle cx="549.2" cy="209.3" r="1.25" fill="#ff00ff"/><circle cx="544.1" cy="201.8" r="1.25" fill="#ff00ff"/><circle cx="542.4" cy="229.6" r="1.25" fill="#ff00ff"/><circle cx="544.0" cy="211.4" r="1.25" fill="#ff00ff"/><circle cx="546.0" cy="214.4" r="1.25" fill="#ff00ff"/><circle cx="540.8" cy="209.9" r="1.25" fill="#ff00ff"/><circle cx="560.8" cy="209.1" r="1.25" fill="#ff00ff"/><circle cx="564.6" cy="217.4" r="1.25" fill="#ff00ff"/><circle cx="547.2" cy="193.8" r="1.25" fill="#ff00ff"/><circle cx="554.1" cy="213.3" r="1.25" fill="#ff00ff"/><circle cx="543.9" cy="222.0" r="1.25" fill="#ff00ff"/><circle cx="562.8" cy="212.6" r="1.25" fill="#ff00ff"/><circle cx="535.5" cy="208.4" r="1.25" fill="#ff00ff"/><circle cx="538.9" cy="215.4" r="1.25" fill="#ff00ff"/><circle cx="549.2" cy="223.7" r="1.25" fill="#ff00ff"/><circle cx="560.7" cy="187.9" r="1.25" fill="#ff00ff"/><circle cx="559.4" cy="200.2" r="1.25" fill="#ff00ff"/><circle cx="542.2" cy="193.0" r="1.25" fill="#ff00ff"/><circle cx="530.4" cy="227.5" r="1.25" fill="#ff00ff"/><circle cx="542.2" cy="206.1" r="1.25" fill="#ff00ff"/><circle cx="528.7" cy="226.9" r="1.25" fill="#ff00ff"/><circle cx="567.9" cy="205.7" r="1.25" fill="#ff00ff"/><circle cx="562.9" cy="199.8" r="1.25" fill="#ff00ff"/><circle cx="561.1" cy="199.3" r="1.25" fill="#ff00ff"/><circle cx="568.1" cy="208.3" r="1.25" fill="#ff00ff"/><circle cx="537.3" cy="203.3" r="1.25" fill="#ff00ff"/><circle cx="547.2" cy="222.3" r="1.25" fill="#ff00ff"/><circle cx="567.8" cy="198.7" r="1.25" fill="#ff00ff"/><circle cx="532.0" cy="210.1" r="1.25" fill="#ff00ff"/><circle cx="560.8" cy="201.5" r="1.25" fill="#ff00ff"/><circle cx="533.6" cy="218.2" r="1.25" fill="#ff00ff"/><circle cx="538.7" cy="224.2" r="1.25" fill="#ff00ff"/><circle cx="545.9" cy="224.3" r="1.25" fill="#ff00ff"/><circle cx="542.1" cy="230.0" r="1.25" fill="#ff00ff"/><circle cx="565.9" cy="208.7" r="1.25" fill="#ff00ff"/><circle cx="537.3" cy="227.3" r="1.25" fill="#ff00ff"/><circle cx="542.4" cy="196.6" r="1.25" fill="#ff00ff"/><circle cx="535.3" cy="226.0" r="1.25" fill="#ff00ff"/><circle cx="549.0" cy="210.5" r="1.25" fill="#ff00ff"/><circle cx="559.4" cy="203.1" r="1.25" fill="#ff00ff"/><circle cx="550.7" cy="199.6" r="1.25" fill="#ff00ff"/><circle cx="540.4" cy="216.1" r="1.25" fill="#ff00ff"/><circle cx="550.8" cy="202.0" r="1.25" fill="#ff00ff"/><circle cx="539.1" cy="204.0" r="1.25" fill="#ff00ff"/><circle cx="555.8" cy="216.2" r="1.25" fill="#ff00ff"/><circle cx="544.1" cy="216.0" r="1.25" fill="#ff00ff"/><circle cx="537.1" cy="224.8" r="1.25" fill="#ff00ff"/><circle cx="554.0" cy="193.5" r="1.25" fill="#ff00ff"/><circle cx="533.8" cy="224.5" r="1.25" fill="#ff00ff"/><circle cx="557.6" cy="197.0" r="1.25" fill="#ff00ff"/><circle cx="555.6" cy="201.4" r="1.25" fill="#ff00ff"/><circle cx="562.6" cy="221.5" r="1.25" fill="#ff00ff"/><circle cx="528.8" cy="225.1" r="1.25" fill="#ff00ff"/><circle cx="561.2" cy="194.9" r="1.25" fill="#ff00ff"/><circle cx="559.4" cy="189.0" r="1.25" fill="#ff00ff"/><circle cx="544.2" cy="220.1" r="1.25" fill="#ff00ff"/><circle cx="544.1" cy="228.7" r="1.25" fill="#ff00ff"/><circle cx="557.7" cy="224.0" r="1.25" fill="#ff00ff"/><circle cx="546.0" cy="209.1" r="1.25" fill="#ff00ff"/><circle cx="531.8" cy="220.8" r="1.25" fill="#ff00ff"/><circle cx="555.8" cy="222.9" r="1.25" fill="#ff00ff"/><circle cx="548.8" cy="196.7" r="1.25" fill="#ff00ff"/><circle cx="542.1" cy="204.3" r="1.25" fill="#ff00ff"/><circle cx="555.7" cy="196.2" r="1.25" fill="#ff00ff"/><circle cx="549.4" cy="205.9" r="1.25" fill="#ff00ff"/><circle cx="542.5" cy="199.1" r="1.25" fill="#ff00ff"/><circle cx="533.7" cy="211.5" r="1.25" fill="#ff00ff"/><circle cx="561.2" cy="210.8" r="1.25" fill="#ff00ff"/><circle cx="533.9" cy="216.3" r="1.25" fill="#ff00ff"/><circle cx="545.9" cy="221.0" r="1.25" fill="#ff00ff"/><circle cx="535.5" cy="218.0" r="1.25" fill="#ff00ff"/><circle cx="527.2" cy="231.6" r="1.25" fill="#ff00ff"/><circle cx="530.7" cy="218.7" r="1.25" fill="#ff00ff"/><circle cx="550.8" cy="190.1" r="1.25" fill="#ff00ff"/><circle cx="545.7" cy="193.9" r="1.25" fill="#ff00ff"/><circle cx="527.1" cy="228.2" r="1.25" fill="#ff00ff"/><circle cx="528.9" cy="221.4" r="1.25" fill="#ff00ff"/><circle cx="559.4" cy="224.0" r="1.25" fill="#ff00ff"/><circle cx="540.6" cy="202.3" r="1.25" fill="#ff00ff"/><circle cx="542.1" cy="224.1" r="1.25" fill="#ff00ff"/><circle cx="561.2" cy="218.2" r="1.25" fill="#ff00ff"/><circle cx="566.1" cy="208.2" r="1.25" fill="#ff00ff"/><circle cx="530.2" cy="217.3" r="1.25" fill="#ff00ff"/><circle cx="562.7" cy="222.0" r="1.25" fill="#ff00ff"/><circle cx="538.9" cy="216.1" r="1.25" fill="#ff00ff"/><circle cx="544.0" cy="200.9" r="1.25" fill="#ff00ff"/><circle cx="554.4" cy="223.8" r="1.25" fill="#ff00ff"/><circle cx="550.6" cy="201.4" r="1.25" fill="#ff00ff"/><circle cx="561.1" cy="187.8" r="1.25" fill="#ff00ff"/><circle cx="552.5" cy="199.0" r="1.25" fill="#ff00ff"/><circle cx="567.9" cy="207.6" r="1.25" fill="#ff00ff"/><circle cx="539.1" cy="201.1" r="1.25" fill="#ff00ff"/><circle cx="542.2" cy="212.3" r="1.25" fill="#ff00ff"/><circle cx="549.0" cy="211.5" r="1.25" fill="#ff00ff"/><circle cx="551.0" cy="190.3" r="1.25" fill="#ff00ff"/><circle cx="537.2" cy="208.0" r="1.25" fill="#ff00ff"/><circle cx="537.0" cy="211.9" r="1.25" fill="#ff00ff"/><circle cx="548.8" cy="212.7" r="1.25" fill="#ff00ff"/><circle cx="562.8" cy="210.9" r="1.25" fill="#ff00ff"/><circle cx="559.6" cy="190.4" r="1.25" fill="#ff00ff"/><circle cx="557.8" cy="189.8" r="1.25" fill="#ff00ff"/><circle cx="544.3" cy="193.0" r="1.25" fill="#ff00ff"/><circle cx="550.6" cy="221.4" r="1.25" fill="#ff00ff"/><circle cx="559.1" cy="187.7" r="1.25" fill="#ff00ff"/><circle cx="545.8" cy="226.8" r="1.25" fill="#ff00ff"/><circle cx="564.7" cy="211.5" r="1.25" fill="#ff00ff"/><circle cx="564.5" cy="192.9" r="1.25" fill="#ff00ff"/><circle cx="540.7" cy="220.9" r="1.25" fill="#ff00ff"/><circle cx="560.9" cy="190.8" r="1.25" fill="#ff00ff"/><circle cx="550.6" cy="222.7" r="1.25" fill="#ff00ff"/><circle cx="566.0" cy="216.7" r="1.25" fill="#ff00ff"/><circle cx="535.7" cy="206.0" r="1.25" fill="#ff00ff"/><circle cx="550.5" cy="190.3" r="1.25" fill="#ff00ff"/><circle cx="531.9" cy="222.6" r="1.25" fill="#ff00ff"/><circle cx="550.9" cy="198.6" r="1.25" fill="#ff00ff"/><circle cx="549.3" cy="217.4" r="1.25" fill="#ff00ff"/><circle cx="534.0" cy="208.6" r="1.25" fill="#ff00ff"/><circle cx="560.8" cy="186.7" r="1.25" fill="#ff00ff"/><circle cx="560.9" cy="216.9" r="1.25" fill="#ff00ff"/><circle cx="547.6" cy="192.4" r="1.25" fill="#ff00ff"/><circle cx="544.1" cy="226.0" r="1.25" fill="#ff00ff"/><circle cx="564.1" cy="212.7" r="1.25" fill="#ff00ff"/><circle cx="550.7" cy="203.2" r="1.25" fill="#ff00ff"/><circle cx="538.9" cy="197.8" r="1.25" fill="#ff00ff"/><circle cx="537.2" cy="211.7" r="1.25" fill="#ff00ff"/><circle cx="551.0" cy="221.2" r="1.25" fill="#ff00ff"/><circle cx="559.4" cy="214.8" r="1.25" fill="#ff00ff"/><circle cx="542.5" cy="198.2" r="1.25" fill="#ff00ff"/><circle cx="540.7" cy="220.9" r="1.25" fill="#ff00ff"/><circle cx="549.0" cy="214.9" r="1.25" fill="#ff00ff"/><circle cx="550.5" cy="204.1" r="1.25" fill="#ff00ff"/><circle cx="540.9" cy="200.2" r="1.25" fill="#ff00ff"/><circle cx="547.2" cy="202.3" r="1.25" fill="#ff00ff"/><circle cx="537.0" cy="201.4" r="1.25" fill="#ff00ff"/><circle cx="545.6" cy="211.7" r="1.25" fill="#ff00ff"/><circle cx="540.6" cy="219.2" r="1.25" fill="#ff00ff"/><circle cx="566.4" cy="201.0" r="1.25" fill="#ff00ff"/><circle cx="559.5" cy="205.1" r="1.25" fill="#ff00ff"/><circle cx="535.3" cy="203.8" r="1.25" fill="#ff00ff"/><circle cx="552.6" cy="225.6" r="1.25" fill="#ff00ff"/><circle cx="535.8" cy="219.5" r="1.25" fill="#ff00ff"/><circle cx="564.2" cy="201.0" r="1.25" fill="#ff00ff"/><circle cx="535.7" cy="210.2" r="1.25" fill="#ff00ff"/><circle cx="540.7" cy="220.2" r="1.25" fill="#ff00ff"/><circle cx="543.9" cy="216.9" r="1.25" fill="#ff00ff"/><circle cx="552.5" cy="200.7" r="1.25" fill="#ff00ff"/><circle cx="552.5" cy="197.1" r="1.25" fill="#ff00ff"/><circle cx="527.0" cy="228.5" r="1.25" fill="#ff00ff"/><circle cx="557.4" cy="200.5" r="1.25" fill="#ff00ff"/><circle cx="530.4" cy="223.3" r="1.25" fill="#ff00ff"/><circle cx="549.1" cy="212.7" r="1.25" fill="#ff00ff"/><circle cx="554.1" cy="213.3" r="1.25" fill="#ff00ff"/><circle cx="557.7" cy="197.1" r="1.25" fill="#ff00ff"/><circle cx="559.2" cy="221.5" r="1.25" fill="#ff00ff"/><circle cx="539.2" cy="209.6" r="1.25" fill="#ff00ff"/><circle cx="554.1" cy="221.4" r="1.25" fill="#ff00ff"/><circle cx="568.0" cy="195.7" r="1.25" fill="#ff00ff"/><circle cx="533.7" cy="229.2" r="1.25" fill="#ff00ff"/><circle cx="565.8" cy="192.6" r="1.25" fill="#ff00ff"/><circle cx="549.4" cy="202.4" r="1.25" fill="#ff00ff"/><circle cx="537.1" cy="220.1" r="1.25" fill="#ff00ff"/><circle cx="549.0" cy="199.0" r="1.25" fill="#ff00ff"/><circle cx="554.3" cy="202.1" r="1.25" fill="#ff00ff"/><circle cx="566.0" cy="197.5" r="1.25" fill="#ff00ff"/><circle cx="552.5" cy="203.7" r="1.25" fill="#ff00ff"/><circle cx="539.2" cy="229.9" r="1.25" fill="#ff00ff"/><circle cx="543.9" cy="209.2" r="1.25" fill="#ff00ff"/><circle cx="555.7" cy="212.6" r="1.25" fill="#ff00ff"/><circle cx="562.8" cy="209.9" r="1.25" fill="#ff00ff"/><circle cx="545.9" cy="210.7" r="1.25" fill="#ff00ff"/><circle cx="552.7" cy="199.4" r="1.25" fill="#ff00ff"/><circle cx="550.7" cy="200.3" r="1.25" fill="#ff00ff"/><circle cx="531.9" cy="227.2" r="1.25" fill="#ff00ff"/><circle cx="540.6" cy="206.4" r="1.25" fill="#ff00ff"/><circle cx="530.2" cy="219.2" r="1.25" fill="#ff00ff"/><circle cx="554.4" cy="197.6" r="1.25" fill="#ff00ff"/><circle cx="552.7" cy="201.0" r="1.25" fill="#ff00ff"/><circle cx="559.0" cy="199.2" r="1.25" fill="#ff00ff"/><circle cx="554.3" cy="201.1" r="1.25" fill="#ff00ff"/><circle cx="557.7" cy="204.0" r="1.25" fill="#ff00ff"/><circle cx="561.3" cy="202.2" r="1.25" fill="#ff00ff"/><circle cx="537.5" cy="201.7" r="1.25" fill="#ff00ff"/><circle cx="557.8" cy="201.1" r="1.25" fill="#ff00ff"/><circle cx="549.1" cy="206.8" r="1.25" fill="#ff00ff"/><circle cx="557.4" cy="210.7" r="1.25" fill="#ff00ff"/><circle cx="552.5" cy="202.0" r="1.25" fill="#ff00ff"/><circle cx="560.8" cy="204.3" r="1.25" fill="#ff00ff"/><circle cx="547.5" cy="206.7" r="1.25" fill="#ff00ff"/><circle cx="545.6" cy="211.5" r="1.25" fill="#ff00ff"/><circle cx="530.3" cy="227.8" r="1.25" fill="#ff00ff"/><circle cx="545.5" cy="204.2" r="1.25" fill="#ff00ff"/><circle cx="552.2" cy="209.0" r="1.25" fill="#ff00ff"/><circle cx="540.6" cy="216.1" r="1.25" fill="#ff00ff"/><circle cx="550.9" cy="208.4" r="1.25" fill="#ff00ff"/><circle cx="538.9" cy="208.9" r="1.25" fill="#ff00ff"/><circle cx="543.9" cy="204.3" r="1.25" fill="#ff00ff"/><circle cx="547.2" cy="217.2" r="1.25" fill="#ff00ff"/><circle cx="552.6" cy="206.1" r="1.25" fill="#ff00ff"/><circle cx="556.0" cy="199.1" r="1.25" fill="#ff00ff"/><circle cx="548.9" cy="214.3" r="1.25" fill="#ff00ff"/><circle cx="552.6" cy="203.7" r="1.25" fill="#ff00ff"/><circle cx="550.8" cy="218.9" r="1.25" fill="#ff00ff"/><circle cx="552.2" cy="228.1" r="1.25" fill="#ff00ff"/><circle cx="542.3" cy="198.4" r="1.25" fill="#ff00ff"/><circle cx="535.4" cy="211.9" r="1.25" fill="#ff00ff"/><circle cx="544.0" cy="204.7" r="1.25" fill="#ff00ff"/><circle cx="535.4" cy="213.0" r="1.25" fill="#ff00ff"/><circle cx="538.7" cy="210.8" r="1.25" fill="#ff00ff"/><circle cx="544.2" cy="210.1" r="1.25" fill="#ff00ff"/><circle cx="537.2" cy="222.7" r="1.25" fill="#ff00ff"/><circle cx="545.5" cy="213.9" r="1.25" fill="#ff00ff"/><circle cx="559.3" cy="194.4" r="1.25" fill="#ff00ff"/><circle cx="533.6" cy="222.1" r="1.25" fill="#ff00ff"/><circle cx="566.1" cy="206.5" r="1.25" fill="#ff00ff"/><circle cx="534.0" cy="211.3" r="1.25" fill="#ff00ff"/><circle cx="552.4" cy="204.1" r="1.25" fill="#ff00ff"/><circle cx="552.3" cy="191.3" r="1.25" fill="#ff00ff"/><circle cx="557.4" cy="205.9" r="1.25" fill="#ff00ff"/><circle cx="547.4" cy="223.8" r="1.25" fill="#ff00ff"/><circle cx="547.3" cy="211.3" r="1.25" fill="#ff00ff"/><circle cx="564.4" cy="192.7" r="1.25" fill="#ff00ff"/><circle cx="535.7" cy="224.4" r="1.25" fill="#ff00ff"/><circle cx="564.3" cy="204.4" r="1.25" fill="#ff00ff"/><circle cx="543.9" cy="213.3" r="1.25" fill="#ff00ff"/><circle cx="550.5" cy="215.6" r="1.25" fill="#ff00ff"/><circle cx="560.7" cy="209.1" r="1.25" fill="#ff00ff"/><circle cx="564.3" cy="207.2" r="1.25" fill="#ff00ff"/><circle cx="551.0" cy="213.1" r="1.25" fill="#ff00ff"/><circle cx="566.3" cy="199.6" r="1.25" fill="#ff00ff"/><circle cx="559.5" cy="208.7" r="1.25" fill="#ff00ff"/><circle cx="542.0" cy="210.6" r="1.25" fill="#ff00ff"/><circle cx="544.1" cy="216.8" r="1.25" fill="#ff00ff"/><circle cx="552.6" cy="214.2" r="1.25" fill="#ff00ff"/><circle cx="550.7" cy="199.8" r="1.25" fill="#ff00ff"/><circle cx="564.3" cy="191.4" r="1.25" fill="#ff00ff"/><circle cx="543.7" cy="207.6" r="1.25" fill="#ff00ff"/><circle cx="547.4" cy="202.2" r="1.25" fill="#ff00ff"/><circle cx="532.3" cy="227.0" r="1.25" fill="#ff00ff"/><circle cx="564.4" cy="195.8" r="1.25" fill="#ff00ff"/><circle cx="535.4" cy="226.2" r="1.25" fill="#ff00ff"/><circle cx="533.8" cy="227.7" r="1.25" fill="#ff00ff"/><circle cx="540.8" cy="218.3" r="1.25" fill="#ff00ff"/><circle cx="537.1" cy="207.6" r="1.25" fill="#ff00ff"/><circle cx="566.1" cy="195.3" r="1.25" fill="#ff00ff"/><circle cx="545.5" cy="197.3" r="1.25" fill="#ff00ff"/><circle cx="554.4" cy="208.1" r="1.25" fill="#ff00ff"/><circle cx="556.1" cy="205.0" r="1.25" fill="#ff00ff"/><circle cx="547.5" cy="209.2" r="1.25" fill="#ff00ff"/><circle cx="543.7" cy="204.4" r="1.25" fill="#ff00ff"/><circle cx="542.4" cy="206.0" r="1.25" fill="#ff00ff"/><circle cx="568.0" cy="190.0" r="1.25" fill="#ff00ff"/><circle cx="559.3" cy="205.2" r="1.25" fill="#ff00ff"/><circle cx="554.1" cy="211.6" r="1.25" fill="#ff00ff"/><circle cx="554.2" cy="195.1" r="1.25" fill="#ff00ff"/><circle cx="549.0" cy="210.3" r="1.25" fill="#ff00ff"/><circle cx="556.1" cy="189.8" r="1.25" fill="#ff00ff"/><circle cx="553.9" cy="210.4" r="1.25" fill="#ff00ff"/><circle cx="540.6" cy="214.6" r="1.25" fill="#ff00ff"/><circle cx="538.8" cy="219.6" r="1.25" fill="#ff00ff"/><circle cx="551.1" cy="202.1" r="1.25" fill="#ff00ff"/><circle cx="547.3" cy="209.3" r="1.25" fill="#ff00ff"/><circle cx="540.6" cy="215.3" r="1.25" fill="#ff00ff"/><circle cx="551.0" cy="213.6" r="1.25" fill="#ff00ff"/><circle cx="554.4" cy="217.7" r="1.25" fill="#ff00ff"/><circle cx="540.9" cy="212.7" r="1.25" fill="#ff00ff"/><circle cx="536.9" cy="227.9" r="1.25" fill="#ff00ff"/><circle cx="542.0" cy="221.7" r="1.25" fill="#ff00ff"/><circle cx="552.6" cy="203.3" r="1.25" fill="#ff00ff"/><circle cx="549.2" cy="198.5" r="1.25" fill="#ff00ff"/><circle cx="543.8" cy="207.1" r="1.25" fill="#ff00ff"/><circle cx="551.1" cy="202.1" r="1.25" fill="#ff00ff"/><circle cx="554.0" cy="207.9" r="1.25" fill="#ff00ff"/><circle cx="544.2" cy="207.9" r="1.25" fill="#ff00ff"/><circle cx="545.4" cy="206.6" r="1.25" fill="#ff00ff"/><circle cx="549.3" cy="206.6" r="1.25" fill="#ff00ff"/><circle cx="552.5" cy="212.0" r="1.25" fill="#ff00ff"/><circle cx="550.6" cy="217.3" r="1.25" fill="#ff00ff"/><circle cx="556.1" cy="197.9" r="1.25" fill="#ff00ff"/><circle cx="568.1" cy="204.2" r="1.25" fill="#ff00ff"/><circle cx="541.8" cy="183.5" r="1.25" fill="#ff00ff"/><circle cx="541.8" cy="186.4" r="1.25" fill="#ff00ff"/><circle cx="541.8" cy="189.4" r="1.25" fill="#ff00ff"/><circle cx="541.8" cy="192.4" r="1.25" fill="#ff00ff"/><circle cx="541.8" cy="195.3" r="1.25" fill="#ff00ff"/><circle cx="562.8" cy="163.0" r="1.25" fill="#ff00ff"/><circle cx="562.8" cy="167.5" r="1.25" fill="#ff00ff"/><circle cx="562.8" cy="172.0" r="1.25" fill="#ff00ff"/><circle cx="562.8" cy="176.5" r="1.25" fill="#ff00ff"/><circle cx="562.8" cy="181.0" r="1.25" fill="#ff00ff"/><circle cx="562.8" cy="185.5" r="1.25" fill="#ff00ff"/><circle cx="562.8" cy="190.0" r="1.25" fill="#ff00ff"/><circle cx="557.0" cy="169.4" r="1.25" fill="#ff00ff"/><circle cx="557.0" cy="172.4" r="1.25" fill="#ff00ff"/><circle cx="557.0" cy="175.3" r="1.25" fill="#ff00ff"/><circle cx="567.6" cy="183.5" r="1.25" fill="#ff00ff"/><circle cx="567.6" cy="186.4" r="1.25" fill="#ff00ff"/><circle cx="567.6" cy="189.4" r="1.25" fill="#ff00ff"/><circle cx="571.2" cy="188.3" r="1.25" fill="#ff00ff"/><circle cx="571.2" cy="191.5" r="1.25" fill="#ff00ff"/><circle cx="571.2" cy="194.7" r="1.25" fill="#ff00ff"/><circle cx="571.2" cy="197.9" r="1.25" fill="#ff00ff"/><circle cx="571.2" cy="201.1" r="1.25" fill="#ff00ff"/><circle cx="571.2" cy="204.3" r="1.25" fill="#ff00ff"/><circle cx="575.9" cy="188.2" r="1.25" fill="#ff00ff"/><circle cx="575.9" cy="191.7" r="1.25" fill="#ff00ff"/><circle cx="575.9" cy="195.2" r="1.25" fill="#ff00ff"/><circle cx="575.9" cy="198.7" r="1.25" fill="#ff00ff"/><circle cx="575.9" cy="202.1" r="1.25" fill="#ff00ff"/><circle cx="575.9" cy="205.6" r="1.25" fill="#ff00ff"/><circle cx="575.9" cy="209.1" r="1.25" fill="#ff00ff"/><circle cx="580.6" cy="186.5" r="1.25" fill="#ff00ff"/><circle cx="580.6" cy="190.1" r="1.25" fill="#ff00ff"/><circle cx="580.6" cy="193.8" r="1.25" fill="#ff00ff"/><circle cx="580.6" cy="197.4" r="1.25" fill="#ff00ff"/><circle cx="580.6" cy="201.1" r="1.25" fill="#ff00ff"/><circle cx="580.6" cy="204.7" r="1.25" fill="#ff00ff"/><circle cx="580.6" cy="208.4" r="1.25" fill="#ff00ff"/><circle cx="585.3" cy="185.0" r="1.25" fill="#ff00ff"/><circle cx="585.3" cy="188.3" r="1.25" fill="#ff00ff"/><circle cx="585.3" cy="191.5" r="1.25" fill="#ff00ff"/><circle cx="585.3" cy="194.8" r="1.25" fill="#ff00ff"/><circle cx="585.3" cy="198.0" r="1.25" fill="#ff00ff"/><circle cx="585.3" cy="201.2" r="1.25" fill="#ff00ff"/><circle cx="585.3" cy="204.5" r="1.25" fill="#ff00ff"/><circle cx="585.3" cy="207.7" r="1.25" fill="#ff00ff"/><circle cx="549.2" cy="224.6" r="1.25" fill="#ff0000"/><circle cx="531.9" cy="235.4" r="1.25" fill="#ff0000"/><circle cx="543.9" cy="220.9" r="1.25" fill="#ff0000"/><circle cx="551.1" cy="226.4" r="1.25" fill="#ff0000"/><circle cx="532.3" cy="226.1" r="1.25" fill="#ff0000"/><circle cx="545.5" cy="227.6" r="1.25" fill="#ff0000"/><circle cx="532.3" cy="220.3" r="1.25" fill="#ff0000"/><circle cx="552.8" cy="219.1" r="1.25" fill="#ff0000"/><circle cx="530.7" cy="229.2" r="1.25" fill="#ff0000"/><circle cx="530.4" cy="222.0" r="1.25" fill="#ff0000"/><circle cx="535.3" cy="233.0" r="1.25" fill="#ff0000"/><circle cx="550.5" cy="221.1" r="1.25" fill="#ff0000"/><circle cx="544.0" cy="215.6" r="1.25" fill="#ff0000"/><circle cx="530.2" cy="226.9" r="1.25" fill="#ff0000"/><circle cx="547.4" cy="216.6" r="1.25" fill="#ff0000"/><circle cx="539.0" cy="223.1" r="1.25" fill="#ff0000"/><circle cx="534.1" cy="217.6" r="1.25" fill="#ff0000"/><circle cx="542.1" cy="217.0" r="1.25" fill="#ff0000"/><circle cx="554.2" cy="216.2" r="1.25" fill="#ff0000"/><circle cx="544.0" cy="216.2" r="1.25" fill="#ff0000"/><circle cx="533.8" cy="227.5" r="1.25" fill="#ff0000"/><circle cx="538.8" cy="218.3" r="1.25" fill="#ff0000"/><circle cx="535.3" cy="216.4" r="1.25" fill="#ff0000"/><circle cx="550.9" cy="228.4" r="1.25" fill="#ff0000"/><circle cx="535.3" cy="233.3" r="1.25" fill="#ff0000"/><circle cx="537.1" cy="213.8" r="1.25" fill="#ff0000"/><circle cx="544.2" cy="220.9" r="1.25" fill="#ff0000"/><circle cx="531.9" cy="228.6" r="1.25" fill="#ff0000"/><circle cx="530.5" cy="219.6" r="1.25" fill="#ff0000"/><circle cx="552.8" cy="225.5" r="1.25" fill="#ff0000"/><circle cx="540.4" cy="215.4" r="1.25" fill="#ff0000"/><circle cx="538.7" cy="216.8" r="1.25" fill="#ff0000"/><circle cx="535.8" cy="221.9" r="1.25" fill="#ff0000"/><circle cx="532.0" cy="232.4" r="1.25" fill="#ff0000"/><circle cx="549.3" cy="216.6" r="1.25" fill="#ff0000"/><circle cx="554.5" cy="221.1" r="1.25" fill="#ff0000"/><circle cx="552.3" cy="219.3" r="1.25" fill="#ff0000"/><circle cx="542.3" cy="219.4" r="1.25" fill="#ff0000"/><circle cx="540.8" cy="234.2" r="1.25" fill="#ff0000"/><circle cx="540.7" cy="215.4" r="1.25" fill="#ff0000"/><circle cx="552.6" cy="222.2" r="1.25" fill="#ff0000"/><circle cx="542.1" cy="213.4" r="1.25" fill="#ff0000"/><circle cx="552.6" cy="224.3" r="1.25" fill="#ff0000"/><circle cx="542.1" cy="222.1" r="1.25" fill="#ff0000"/><circle cx="537.1" cy="215.4" r="1.25" fill="#ff0000"/><circle cx="549.2" cy="224.9" r="1.25" fill="#ff0000"/><circle cx="550.9" cy="216.3" r="1.25" fill="#ff0000"/><circle cx="530.2" cy="235.2" r="1.25" fill="#ff0000"/><circle cx="554.2" cy="223.6" r="1.25" fill="#ff0000"/><circle cx="533.6" cy="235.4" r="1.25" fill="#ff0000"/><circle cx="540.4" cy="222.2" r="1.25" fill="#ff0000"/><circle cx="545.9" cy="212.4" r="1.25" fill="#ff0000"/><circle cx="543.8" cy="226.0" r="1.25" fill="#ff0000"/><circle cx="521.9" cy="233.9" r="1.25" fill="#ff0000"/><circle cx="537.3" cy="222.1" r="1.25" fill="#ff0000"/><circle cx="528.6" cy="222.7" r="1.25" fill="#ff0000"/><circle cx="527.2" cy="232.7" r="1.25" fill="#ff0000"/><circle cx="532.4" cy="229.4" r="1.25" fill="#ff0000"/><circle cx="556.0" cy="211.0" r="1.25" fill="#ff0000"/><circle cx="530.6" cy="228.3" r="1.25" fill="#ff0000"/><circle cx="545.8" cy="207.9" r="1.25" fill="#ff0000"/><circle cx="547.2" cy="216.1" r="1.25" fill="#ff0000"/><circle cx="552.3" cy="203.7" r="1.25" fill="#ff0000"/><circle cx="528.4" cy="227.8" r="1.25" fill="#ff0000"/><circle cx="533.9" cy="236.5" r="1.25" fill="#ff0000"/><circle cx="543.9" cy="231.6" r="1.25" fill="#ff0000"/><circle cx="530.7" cy="228.6" r="1.25" fill="#ff0000"/><circle cx="525.4" cy="224.2" r="1.25" fill="#ff0000"/><circle cx="533.6" cy="221.1" r="1.25" fill="#ff0000"/><circle cx="523.8" cy="231.3" r="1.25" fill="#ff0000"/><circle cx="538.9" cy="226.4" r="1.25" fill="#ff0000"/><circle cx="542.4" cy="216.9" r="1.25" fill="#ff0000"/><circle cx="545.4" cy="222.0" r="1.25" fill="#ff0000"/><circle cx="542.6" cy="228.2" r="1.25" fill="#ff0000"/><circle cx="543.9" cy="216.5" r="1.25" fill="#ff0000"/><circle cx="543.9" cy="216.2" r="1.25" fill="#ff0000"/><circle cx="537.1" cy="226.2" r="1.25" fill="#ff0000"/><circle cx="537.5" cy="230.6" r="1.25" fill="#ff0000"/><circle cx="542.5" cy="225.4" r="1.25" fill="#ff0000"/><circle cx="528.8" cy="238.6" r="1.25" fill="#ff0000"/><circle cx="537.0" cy="217.2" r="1.25" fill="#ff0000"/><circle cx="535.5" cy="216.8" r="1.25" fill="#ff0000"/><circle cx="526.9" cy="222.0" r="1.25" fill="#ff0000"/><circle cx="543.9" cy="230.4" r="1.25" fill="#ff0000"/><circle cx="539.1" cy="220.5" r="1.25" fill="#ff0000"/><circle cx="532.4" cy="227.0" r="1.25" fill="#ff0000"/><circle cx="542.0" cy="225.7" r="1.25" fill="#ff0000"/><circle cx="525.4" cy="232.3" r="1.25" fill="#ff0000"/><circle cx="531.9" cy="238.1" r="1.25" fill="#ff0000"/><circle cx="542.6" cy="231.6" r="1.25" fill="#ff0000"/><circle cx="527.2" cy="225.1" r="1.25" fill="#ff0000"/><circle cx="539.1" cy="229.8" r="1.25" fill="#ff0000"/><circle cx="539.1" cy="227.1" r="1.25" fill="#ff0000"/><circle cx="530.5" cy="230.2" r="1.25" fill="#ff0000"/><circle cx="542.2" cy="217.3" r="1.25" fill="#ff0000"/><circle cx="549.1" cy="216.4" r="1.25" fill="#ff0000"/><circle cx="542.3" cy="210.0" r="1.25" fill="#ff0000"/><circle cx="535.4" cy="233.5" r="1.25" fill="#ff0000"/><circle cx="542.5" cy="208.1" r="1.25" fill="#ff0000"/><circle cx="552.7" cy="220.4" r="1.25" fill="#ff0000"/><circle cx="523.8" cy="238.6" r="1.25" fill="#ff0000"/><circle cx="532.2" cy="214.8" r="1.25" fill="#ff0000"/><circle cx="540.7" cy="217.5" r="1.25" fill="#ff0000"/><circle cx="532.0" cy="219.5" r="1.25" fill="#ff0000"/><circle cx="552.7" cy="214.7" r="1.25" fill="#ff0000"/><circle cx="542.1" cy="225.7" r="1.25" fill="#ff0000"/><circle cx="552.8" cy="215.8" r="1.25" fill="#ff0000"/><circle cx="539.0" cy="215.8" r="1.25" fill="#ff0000"/><circle cx="557.5" cy="212.2" r="1.25" fill="#ff0000"/><circle cx="550.6" cy="211.2" r="1.25" fill="#ff0000"/><circle cx="535.9" cy="160.0" r="1.25" fill="#ff0000"/><circle cx="535.9" cy="162.4" r="1.25" fill="#ff0000"/><circle cx="535.9" cy="164.7" r="1.25" fill="#ff0000"/><circle cx="535.9" cy="167.1" r="1.25" fill="#ff0000"/><circle cx="535.9" cy="169.4" r="1.25" fill="#ff0000"/><circle cx="535.9" cy="171.8" r="1.25" fill="#ff0000"/><circle cx="535.9" cy="187.0" r="1.25" fill="#ff0000"/><circle cx="535.9" cy="189.3" r="1.25" fill="#ff0000"/><circle cx="535.9" cy="191.7" r="1.25" fill="#ff0000"/><circle cx="535.9" cy="194.0" r="1.25" fill="#ff0000"/><circle cx="552.4" cy="184.7" r="1.25" fill="#ff0000"/><circle cx="552.4" cy="186.4" r="1.25" fill="#ff0000"/><circle cx="552.4" cy="188.2" r="1.25" fill="#ff0000"/><circle cx="578.2" cy="188.2" r="1.25" fill="#ff0000"/><circle cx="578.2" cy="190.2" r="1.25" fill="#ff0000"/><circle cx="578.2" cy="192.1" r="1.25" fill="#ff0000"/><circle cx="578.2" cy="194.1" r="1.25" fill="#ff0000"/><circle cx="582.0" cy="199.5" r="1.25" fill="#ff0000"/><circle cx="584.0" cy="208.3" r="1.25" fill="#ff0000"/><circle cx="586.0" cy="200.1" r="1.25" fill="#ff0000"/><circle cx="584.0" cy="202.8" r="1.25" fill="#ff0000"/><circle cx="584.0" cy="201.4" r="1.25" fill="#ff0000"/><circle cx="580.0" cy="208.7" r="1.25" fill="#ff0000"/><circle cx="584.0" cy="199.2" r="1.25" fill="#ff0000"/><circle cx="570.1" cy="210.5" r="1.25" fill="#ff0000"/><circle cx="572.1" cy="207.4" r="1.25" fill="#ff0000"/><circle cx="573.2" cy="212.1" r="1.25" fill="#ff0000"/><circle cx="572.9" cy="209.8" r="1.25" fill="#ff0000"/><circle cx="592.4" cy="197.6" r="1.25" fill="#ff0000"/><circle cx="539.4" cy="197.6" r="1.25" fill="#ff0000"/><circle cx="500.6" cy="232.9" r="1.25" fill="#ff0000"/><circle cx="505.3" cy="232.4" r="1.25" fill="#ff0000"/><circle cx="505.9" cy="235.6" r="1.25" fill="#ff0000"/><circle cx="504.0" cy="230.0" r="1.25" fill="#ff0000"/><circle cx="513.8" cy="231.4" r="1.25" fill="#ff0000"/><circle cx="521.8" cy="232.4" r="1.25" fill="#ff0000"/><circle cx="524.0" cy="231.0" r="1.25" fill="#ff0000"/><circle cx="520.0" cy="238.2" r="1.25" fill="#ff0000"/><circle cx="483.3" cy="213.5" r="1.25" fill="#ff0000"/><circle cx="503.0" cy="221.0" r="1.25" fill="#ff0000"/><circle cx="505.3" cy="219.7" r="1.25" fill="#ff0000"/><circle cx="503.7" cy="229.6" r="1.25" fill="#ff0000"/><circle cx="505.3" cy="228.0" r="1.25" fill="#ff0000"/><circle cx="500.6" cy="233.2" r="1.25" fill="#ff0000"/><circle cx="505.8" cy="232.7" r="1.25" fill="#ff0000"/><circle cx="505.8" cy="235.4" r="1.25" fill="#ff0000"/><circle cx="528.8" cy="247.6" r="1.25" fill="#ff0000"/><circle cx="528.8" cy="249.4" r="1.25" fill="#ff0000"/><circle cx="528.8" cy="257.3" r="1.25" fill="#ff0000"/><circle cx="543.7" cy="239.8" r="1.25" fill="#ff0000"/><circle cx="513.3" cy="168.8" r="1.25" fill="#ff0000"/><circle cx="513.3" cy="180.6" r="1.25" fill="#ff0000"/><circle cx="513.3" cy="183.5" r="1.25" fill="#ff0000"/><circle cx="525.5" cy="187.5" r="1.25" fill="#ff0000"/><circle cx="535.3" cy="188.4" r="1.25" fill="#ff0000"/><circle cx="535.7" cy="193.3" r="1.25" fill="#ff0000"/><circle cx="525.5" cy="197.3" r="1.25" fill="#ff0000"/><circle cx="527.5" cy="201.2" r="1.25" fill="#ff0000"/><circle cx="525.5" cy="206.0" r="1.25" fill="#ff0000"/><circle cx="552.0" cy="185.5" r="1.25" fill="#ff0000"/><circle cx="553.0" cy="189.4" r="1.25" fill="#ff0000"/><circle cx="578.4" cy="189.4" r="1.25" fill="#ff0000"/><circle cx="578.4" cy="193.3" r="1.25" fill="#ff0000"/><circle cx="592.2" cy="198.2" r="1.25" fill="#ff0000"/><circle cx="596.1" cy="215.9" r="1.25" fill="#ff0000"/><circle cx="504.0" cy="218.8" r="1.25" fill="#ff0000"/><circle cx="505.0" cy="227.6" r="1.25" fill="#ff0000"/><circle cx="506.0" cy="233.5" r="1.25" fill="#ff0000"/><circle cx="502.0" cy="228.6" r="1.25" fill="#ff0000"/><circle cx="529.0" cy="246.3" r="1.25" fill="#ff0000"/><circle cx="529.0" cy="250.2" r="1.25" fill="#ff0000"/><circle cx="529.0" cy="257.0" r="1.25" fill="#ff0000"/><circle cx="544.1" cy="239.4" r="1.25" fill="#ff0000"/><circle cx="570.6" cy="211.0" r="1.25" fill="#ff0000"/><circle cx="573.5" cy="213.0" r="1.25" fill="#ff0000"/><circle cx="543.5" cy="137.5" r="1.25" fill="#ff0000"/><circle cx="553.9" cy="136.1" r="1.25" fill="#ff0000"/><circle cx="535.7" cy="142.0" r="1.25" fill="#ff0000"/><circle cx="535.7" cy="146.5" r="1.25" fill="#ff0000"/><circle cx="535.7" cy="150.8" r="1.25" fill="#ff0000"/><circle cx="513.3" cy="168.4" r="1.25" fill="#ff0000"/><circle cx="513.3" cy="180.6" r="1.25" fill="#ff0000"/><circle cx="513.3" cy="183.7" r="1.25" fill="#ff0000"/><circle cx="525.5" cy="187.0" r="1.25" fill="#ff0000"/><circle cx="535.7" cy="187.0" r="1.25" fill="#ff0000"/><circle cx="552.0" cy="185.0" r="1.25" fill="#ff0000"/><circle cx="552.0" cy="188.0" r="1.25" fill="#ff0000"/><circle cx="636.1" cy="110.9" r="1.25" fill="#ff0000"/><circle cx="636.1" cy="113.0" r="1.25" fill="#ff0000"/><circle cx="636.1" cy="115.0" r="1.25" fill="#ff0000"/><circle cx="636.1" cy="117.0" r="1.25" fill="#ff0000"/><circle cx="652.3" cy="111.8" r="1.25" fill="#ff0000"/><circle cx="652.3" cy="114.0" r="1.25" fill="#ff0000"/><circle cx="652.3" cy="116.0" r="1.25" fill="#ff0000"/><circle cx="652.3" cy="118.0" r="1.25" fill="#ff0000"/><circle cx="648.8" cy="119.7" r="1.25" fill="#ff0000"/><circle cx="610.0" cy="125.9" r="1.25" fill="#ff0000"/><circle cx="612.6" cy="131.2" r="1.25" fill="#ff0000"/><circle cx="614.4" cy="133.0" r="1.25" fill="#ff0000"/><circle cx="645.3" cy="133.0" r="1.25" fill="#ff0000"/><circle cx="609.1" cy="136.5" r="1.25" fill="#ff0000"/><circle cx="640.2" cy="169.4" r="1.25" fill="#ff0000"/><circle cx="640.2" cy="174.3" r="1.25" fill="#ff0000"/><circle cx="645.0" cy="145.9" r="1.25" fill="#ff0000"/><circle cx="619.6" cy="190.0" r="1.25" fill="#ff0000"/><circle cx="620.6" cy="195.9" r="1.25" fill="#ff0000"/><circle cx="616.7" cy="196.9" r="1.25" fill="#ff0000"/><circle cx="614.7" cy="205.7" r="1.25" fill="#ff0000"/><circle cx="609.8" cy="178.2" r="1.25" fill="#ff0000"/><circle cx="609.8" cy="180.2" r="1.25" fill="#ff0000"/><circle cx="672.5" cy="140.0" r="1.25" fill="#ff0000"/><circle cx="672.8" cy="127.1" r="1.25" fill="#ff0000"/><circle cx="672.8" cy="139.6" r="1.25" fill="#ff0000"/><circle cx="652.6" cy="112.3" r="1.25" fill="#ff0000"/><circle cx="652.6" cy="114.5" r="1.25" fill="#ff0000"/><circle cx="652.6" cy="117.6" r="1.25" fill="#ff0000"/><circle cx="673.0" cy="126.5" r="1.25" fill="#ff0000"/><circle cx="618.8" cy="190.2" r="1.25" fill="#ff0000"/><circle cx="616.9" cy="196.0" r="1.25" fill="#ff0000"/><circle cx="620.8" cy="196.0" r="1.25" fill="#ff0000"/><circle cx="591.4" cy="197.0" r="1.25" fill="#ff0000"/><circle cx="640.4" cy="170.6" r="1.25" fill="#ff0000"/><circle cx="640.4" cy="172.5" r="1.25" fill="#ff0000"/><circle cx="640.4" cy="174.5" r="1.25" fill="#ff0000"/><circle cx="610.0" cy="128.0" r="1.25" fill="#ff0000"/><circle cx="610.0" cy="131.0" r="1.25" fill="#ff0000"/><circle cx="610.0" cy="134.0" r="1.25" fill="#ff0000"/><circle cx="610.0" cy="137.0" r="1.25" fill="#ff0000"/><circle cx="610.0" cy="140.0" r="1.25" fill="#ff0000"/><circle cx="535.7" cy="161.6" r="1.25" fill="#ff0000"/><circle cx="535.7" cy="165.2" r="1.25" fill="#ff0000"/><circle cx="535.7" cy="168.8" r="1.25" fill="#ff0000"/><circle cx="535.7" cy="172.4" r="1.25" fill="#ff0000"/><circle cx="517.0" cy="235.0" r="1.25" fill="#ff0000"/><circle cx="517.0" cy="237.4" r="1.25" fill="#ff0000"/><circle cx="517.0" cy="239.8" r="1.25" fill="#ff0000"/><circle cx="517.0" cy="242.2" r="1.25" fill="#ff0000"/><circle cx="517.0" cy="244.6" r="1.25" fill="#ff0000"/><circle cx="517.0" cy="247.0" r="1.25" fill="#ff0000"/><circle cx="519.0" cy="238.0" r="1.25" fill="#ff0000"/><circle cx="519.0" cy="240.5" r="1.25" fill="#ff0000"/><circle cx="519.0" cy="243.0" r="1.25" fill="#ff0000"/><circle cx="519.0" cy="245.5" r="1.25" fill="#ff0000"/><circle cx="519.0" cy="248.0" r="1.25" fill="#ff0000"/><circle cx="500.6" cy="193.8" r="1.25" fill="#ff0000"/><circle cx="501.3" cy="199.6" r="1.25" fill="#ff0000"/><circle cx="633.1" cy="130.2" r="1.25" fill="#ff0000"/><circle cx="630.2" cy="136.0" r="1.25" fill="#ff0000"/><circle cx="624.3" cy="134.1" r="1.25" fill="#ff0000"/><circle cx="633.1" cy="132.3" r="1.25" fill="#ff0000"/><circle cx="635.9" cy="133.8" r="1.25" fill="#ff0000"/><circle cx="623.5" cy="133.3" r="1.25" fill="#ff0000"/><circle cx="622.9" cy="132.2" r="1.25" fill="#ff0000"/><circle cx="635.8" cy="130.5" r="1.25" fill="#ff0000"/><circle cx="625.0" cy="134.9" r="1.25" fill="#ff0000"/><circle cx="637.0" cy="130.9" r="1.25" fill="#ff0000"/><circle cx="625.1" cy="137.4" r="1.25" fill="#ff0000"/><circle cx="629.7" cy="132.7" r="1.25" fill="#ff0000"/><circle cx="624.2" cy="131.7" r="1.25" fill="#ff0000"/><circle cx="626.7" cy="137.1" r="1.25" fill="#ff0000"/><circle cx="630.5" cy="139.5" r="1.25" fill="#ff0000"/><circle cx="632.9" cy="132.2" r="1.25" fill="#ff0000"/><circle cx="630.4" cy="136.9" r="1.25" fill="#ff0000"/><circle cx="635.2" cy="130.4" r="1.25" fill="#ff0000"/><circle cx="623.9" cy="137.9" r="1.25" fill="#ff0000"/><circle cx="628.1" cy="131.7" r="1.25" fill="#ff0000"/><circle cx="626.6" cy="134.2" r="1.25" fill="#ff0000"/><circle cx="637.4" cy="132.5" r="1.25" fill="#ff0000"/><circle cx="625.1" cy="137.2" r="1.25" fill="#ff0000"/><circle cx="628.1" cy="131.1" r="1.25" fill="#ff0000"/><circle cx="629.5" cy="138.0" r="1.25" fill="#ff0000"/><circle cx="637.5" cy="135.3" r="1.25" fill="#ff0000"/><circle cx="632.9" cy="138.9" r="1.25" fill="#ff0000"/><circle cx="637.3" cy="138.0" r="1.25" fill="#ff0000"/><circle cx="626.8" cy="133.0" r="1.25" fill="#ff0000"/><circle cx="628.7" cy="132.9" r="1.25" fill="#ff0000"/><circle cx="620.4" cy="149.3" r="1.25" fill="#ff0000"/><circle cx="617.9" cy="173.3" r="1.25" fill="#ff0000"/><circle cx="621.0" cy="165.1" r="1.25" fill="#ff0000"/><circle cx="629.1" cy="168.7" r="1.25" fill="#ff0000"/><circle cx="618.2" cy="173.6" r="1.25" fill="#ff0000"/><circle cx="626.4" cy="168.6" r="1.25" fill="#ff0000"/><circle cx="627.8" cy="153.6" r="1.25" fill="#ff0000"/><circle cx="625.2" cy="157.4" r="1.25" fill="#ff0000"/><circle cx="628.3" cy="150.0" r="1.25" fill="#ff0000"/><circle cx="623.2" cy="156.1" r="1.25" fill="#ff0000"/><circle cx="628.0" cy="156.4" r="1.25" fill="#ff0000"/><circle cx="628.3" cy="171.4" r="1.25" fill="#ff0000"/><circle cx="628.9" cy="150.2" r="1.25" fill="#ff0000"/><circle cx="630.0" cy="168.3" r="1.25" fill="#ff0000"/><circle cx="625.5" cy="165.6" r="1.25" fill="#ff0000"/><circle cx="614.8" cy="172.1" r="1.25" fill="#ff0000"/><circle cx="609.7" cy="134.4" r="1.25" fill="#ff0000"/><circle cx="609.7" cy="136.8" r="1.25" fill="#ff0000"/><circle cx="609.7" cy="139.1" r="1.25" fill="#ff0000"/><circle cx="609.7" cy="141.5" r="1.25" fill="#ff0000"/><circle cx="615.6" cy="146.0" r="1.25" fill="#ff00ff"/><circle cx="618.0" cy="150.0" r="1.25" fill="#ff00ff"/><circle cx="621.5" cy="156.0" r="1.25" fill="#ff00ff"/><circle cx="609.7" cy="170.0" r="1.25" fill="#ff00ff"/><circle cx="609.7" cy="174.0" r="1.25" fill="#ff00ff"/><circle cx="609.7" cy="178.0" r="1.25" fill="#ff00ff"/><circle cx="634.4" cy="165.0" r="1.25" fill="#ff00ff"/><circle cx="634.4" cy="168.5" r="1.25" fill="#ff00ff"/><circle cx="638.0" cy="154.4" r="1.25" fill="#ff00ff"/><circle cx="626.0" cy="182.6" r="1.25" fill="#ff00ff"/><circle cx="578.0" cy="159.0" r="1.25" fill="#ff00ff"/><circle cx="578.0" cy="162.0" r="1.25" fill="#ff00ff"/><circle cx="578.0" cy="164.5" r="1.25" fill="#ff00ff"/><circle cx="616.9" cy="116.7" r="1.25" fill="#ff00ff"/><circle cx="628.6" cy="124.5" r="1.25" fill="#ff00ff"/><circle cx="644.3" cy="119.6" r="1.25" fill="#ff00ff"/><circle cx="644.3" cy="123.5" r="1.25" fill="#ff00ff"/><circle cx="654.1" cy="152.0" r="1.25" fill="#ff00ff"/><circle cx="648.2" cy="146.0" r="1.25" fill="#ff00ff"/><circle cx="626.7" cy="182.4" r="1.25" fill="#ff00ff"/><circle cx="634.5" cy="165.7" r="1.25" fill="#ff00ff"/><circle cx="634.5" cy="168.6" r="1.25" fill="#ff00ff"/><circle cx="599.2" cy="182.4" r="1.25" fill="#ff00ff"/><circle cx="604.1" cy="186.3" r="1.25" fill="#ff00ff"/><circle cx="616.2" cy="117.0" r="1.25" fill="#ff00ff"/><circle cx="643.5" cy="117.0" r="1.25" fill="#ff00ff"/><circle cx="643.5" cy="120.5" r="1.25" fill="#ff00ff"/><circle cx="643.5" cy="124.1" r="1.25" fill="#ff00ff"/><circle cx="652.3" cy="122.3" r="1.25" fill="#ff00ff"/><circle cx="662.0" cy="136.5" r="1.25" fill="#ff00ff"/><circle cx="628.5" cy="125.0" r="1.25" fill="#ff00ff"/><circle cx="649.0" cy="145.9" r="1.25" fill="#ff00ff"/><circle cx="654.9" cy="151.4" r="1.25" fill="#ff00ff"/><circle cx="662.7" cy="152.7" r="1.25" fill="#ff00ff"/><circle cx="662.7" cy="156.7" r="1.25" fill="#ff00ff"/><circle cx="626.5" cy="182.7" r="1.25" fill="#ff00ff"/><circle cx="603.9" cy="187.1" r="1.25" fill="#ff00ff"/><circle cx="608.8" cy="202.4" r="1.25" fill="#ff00ff"/><circle cx="608.8" cy="207.6" r="1.25" fill="#ff00ff"/><circle cx="615.7" cy="202.7" r="1.25" fill="#ff00ff"/><circle cx="635.3" cy="167.5" r="1.25" fill="#ff00ff"/><circle cx="555.9" cy="153.7" r="1.25" fill="#ff00ff"/><circle cx="578.4" cy="158.6" r="1.25" fill="#ff00ff"/><circle cx="568.6" cy="184.1" r="1.25" fill="#ff00ff"/><circle cx="577.5" cy="164.5" r="1.25" fill="#ff00ff"/><circle cx="662.9" cy="129.0" r="1.25" fill="#ff00ff"/><circle cx="662.9" cy="136.3" r="1.25" fill="#ff00ff"/><circle cx="662.9" cy="153.0" r="1.25" fill="#ff00ff"/><circle cx="662.9" cy="156.5" r="1.25" fill="#ff00ff"/><circle cx="652.6" cy="122.0" r="1.25" fill="#ff00ff"/><circle cx="657.0" cy="128.2" r="1.25" fill="#ff00ff"/><circle cx="660.6" cy="128.2" r="1.25" fill="#ff00ff"/><circle cx="596.0" cy="212.0" r="1.25" fill="#ff00ff"/><circle cx="590.0" cy="206.0" r="1.25" fill="#ff00ff"/><circle cx="594.0" cy="200.0" r="1.25" fill="#ff00ff"/><circle cx="562.7" cy="162.5" r="1.25" fill="#ff00ff"/><circle cx="562.7" cy="164.5" r="1.25" fill="#ff00ff"/><circle cx="562.7" cy="166.5" r="1.25" fill="#ff00ff"/><circle cx="560.8" cy="168.4" r="1.25" fill="#ff00ff"/><circle cx="560.8" cy="170.6" r="1.25" fill="#ff00ff"/><circle cx="560.8" cy="172.8" r="1.25" fill="#ff00ff"/><circle cx="560.8" cy="174.9" r="1.25" fill="#ff00ff"/><circle cx="560.8" cy="177.1" r="1.25" fill="#ff00ff"/><circle cx="560.8" cy="179.3" r="1.25" fill="#ff00ff"/><circle cx="560.8" cy="181.5" r="1.25" fill="#ff00ff"/><circle cx="560.8" cy="183.6" r="1.25" fill="#ff00ff"/><circle cx="560.8" cy="185.8" r="1.25" fill="#ff00ff"/><circle cx="560.8" cy="188.0" r="1.25" fill="#ff00ff"/><circle cx="562.7" cy="172.4" r="1.25" fill="#ff00ff"/><circle cx="562.7" cy="174.8" r="1.25" fill="#ff00ff"/><circle cx="562.7" cy="177.3" r="1.25" fill="#ff00ff"/><circle cx="562.7" cy="179.8" r="1.25" fill="#ff00ff"/><circle cx="562.7" cy="182.2" r="1.25" fill="#ff00ff"/><circle cx="541.8" cy="184.1" r="1.25" fill="#ff00ff"/><circle cx="541.8" cy="186.1" r="1.25" fill="#ff00ff"/><circle cx="541.8" cy="188.0" r="1.25" fill="#ff00ff"/><circle cx="583.0" cy="195.0" r="1.25" fill="#ff00ff"/><circle cx="583.0" cy="197.1" r="1.25" fill="#ff00ff"/><circle cx="583.0" cy="199.2" r="1.25" fill="#ff00ff"/><circle cx="583.0" cy="201.4" r="1.25" fill="#ff00ff"/><circle cx="583.0" cy="203.5" r="1.25" fill="#ff00ff"/><circle cx="583.0" cy="205.6" r="1.25" fill="#ff00ff"/><circle cx="583.0" cy="207.8" r="1.25" fill="#ff00ff"/><circle cx="583.0" cy="209.9" r="1.25" fill="#ff00ff"/><circle cx="583.0" cy="212.0" r="1.25" fill="#ff00ff"/><circle cx="587.0" cy="196.0" r="1.25" fill="#ff00ff"/><circle cx="587.0" cy="198.4" r="1.25" fill="#ff00ff"/><circle cx="587.0" cy="200.8" r="1.25" fill="#ff00ff"/><circle cx="587.0" cy="203.2" r="1.25" fill="#ff00ff"/><circle cx="587.0" cy="205.6" r="1.25" fill="#ff00ff"/><circle cx="587.0" cy="208.0" r="1.25" fill="#ff00ff"/><circle cx="579.0" cy="198.0" r="1.25" fill="#ff00ff"/><circle cx="579.0" cy="200.3" r="1.25" fill="#ff00ff"/><circle cx="579.0" cy="202.6" r="1.25" fill="#ff00ff"/><circle cx="579.0" cy="204.9" r="1.25" fill="#ff00ff"/><circle cx="579.0" cy="207.1" r="1.25" fill="#ff00ff"/><circle cx="579.0" cy="209.4" r="1.25" fill="#ff00ff"/><circle cx="579.0" cy="211.7" r="1.25" fill="#ff00ff"/><circle cx="579.0" cy="214.0" r="1.25" fill="#ff00ff"/><circle cx="576.0" cy="174.6" r="1.25" fill="#ff00ff"/><circle cx="584.0" cy="185.0" r="1.25" fill="#ff00ff"/><circle cx="566.0" cy="170.9" r="1.25" fill="#ff00ff"/><circle cx="564.0" cy="170.5" r="1.25" fill="#ff00ff"/><circle cx="584.0" cy="167.3" r="1.25" fill="#ff00ff"/><circle cx="574.0" cy="172.9" r="1.25" fill="#ff00ff"/><circle cx="588.0" cy="169.9" r="1.25" fill="#ff00ff"/><circle cx="586.0" cy="175.1" r="1.25" fill="#ff00ff"/><circle cx="582.0" cy="170.0" r="1.25" fill="#ff00ff"/><circle cx="578.0" cy="163.4" r="1.25" fill="#ff00ff"/><circle cx="584.0" cy="176.6" r="1.25" fill="#ff00ff"/><circle cx="572.0" cy="188.2" r="1.25" fill="#ff00ff"/><circle cx="566.0" cy="171.6" r="1.25" fill="#ff00ff"/><circle cx="588.0" cy="182.3" r="1.25" fill="#ff00ff"/><circle cx="572.0" cy="183.0" r="1.25" fill="#ff00ff"/><circle cx="584.0" cy="171.4" r="1.25" fill="#ff00ff"/><circle cx="582.0" cy="185.7" r="1.25" fill="#ff00ff"/><circle cx="572.0" cy="182.7" r="1.25" fill="#ff00ff"/><circle cx="566.0" cy="169.7" r="1.25" fill="#ff00ff"/><circle cx="582.0" cy="166.0" r="1.25" fill="#ff00ff"/><circle cx="576.0" cy="181.4" r="1.25" fill="#ff00ff"/><circle cx="584.0" cy="165.9" r="1.25" fill="#ff00ff"/><circle cx="576.0" cy="184.3" r="1.25" fill="#ff00ff"/><circle cx="570.0" cy="189.6" r="1.25" fill="#ff00ff"/><circle cx="588.0" cy="177.9" r="1.25" fill="#ff00ff"/><circle cx="578.0" cy="185.7" r="1.25" fill="#ff00ff"/><circle cx="578.0" cy="168.3" r="1.25" fill="#ff00ff"/><circle cx="572.0" cy="176.4" r="1.25" fill="#ff00ff"/><circle cx="582.0" cy="183.9" r="1.25" fill="#ff00ff"/><circle cx="568.0" cy="176.5" r="1.25" fill="#ff00ff"/><circle cx="578.0" cy="188.9" r="1.25" fill="#ff00ff"/><circle cx="578.0" cy="183.1" r="1.25" fill="#ff00ff"/><circle cx="582.0" cy="182.7" r="1.25" fill="#ff00ff"/><circle cx="588.0" cy="174.2" r="1.25" fill="#ff00ff"/><circle cx="564.0" cy="174.7" r="1.25" fill="#ff00ff"/><circle cx="568.0" cy="166.4" r="1.25" fill="#ff00ff"/><circle cx="572.0" cy="179.8" r="1.25" fill="#ff00ff"/><circle cx="564.0" cy="167.0" r="1.25" fill="#ff00ff"/><circle cx="566.0" cy="170.1" r="1.25" fill="#ff00ff"/><circle cx="566.0" cy="175.4" r="1.25" fill="#ff00ff"/><circle cx="643.8" cy="159.5" r="1.25" fill="#ff00ff"/><circle cx="642.5" cy="159.0" r="1.25" fill="#ff00ff"/><circle cx="608.9" cy="163.3" r="1.25" fill="#ff00ff"/><circle cx="606.5" cy="148.1" r="1.25" fill="#ff00ff"/><circle cx="603.3" cy="167.2" r="1.25" fill="#ff00ff"/><circle cx="615.9" cy="157.3" r="1.25" fill="#ff00ff"/><circle cx="615.8" cy="166.9" r="1.25" fill="#ff00ff"/><circle cx="617.6" cy="147.5" r="1.25" fill="#ff00ff"/><circle cx="638.9" cy="162.6" r="1.25" fill="#ff00ff"/><circle cx="632.8" cy="154.8" r="1.25" fill="#ff00ff"/><circle cx="523.5" cy="180.6" r="1.25" fill="#00ffff"/><circle cx="523.5" cy="182.5" r="1.25" fill="#00ffff"/><circle cx="531.4" cy="180.6" r="1.25" fill="#00ffff"/><circle cx="529.4" cy="175.7" r="1.25" fill="#00ffff"/><circle cx="533.3" cy="163.0" r="1.25" fill="#00ffff"/><circle cx="536.3" cy="162.0" r="1.25" fill="#00ffff"/><circle cx="553.0" cy="173.7" r="1.25" fill="#00ffff"/><circle cx="533.7" cy="150.8" r="1.25" fill="#00ffff"/><circle cx="533.7" cy="154.7" r="1.25" fill="#00ffff"/><circle cx="533.7" cy="162.5" r="1.25" fill="#00ffff"/><circle cx="539.2" cy="171.4" r="1.25" fill="#00ffff"/><circle cx="529.4" cy="176.3" r="1.25" fill="#00ffff"/><circle cx="531.4" cy="180.2" r="1.25" fill="#00ffff"/><circle cx="531.4" cy="183.1" r="1.25" fill="#00ffff"/><circle cx="558.8" cy="142.0" r="1.25" fill="#00ffff"/><circle cx="558.8" cy="144.9" r="1.25" fill="#00ffff"/><circle cx="565.7" cy="146.9" r="1.25" fill="#00ffff"/><circle cx="565.7" cy="148.8" r="1.25" fill="#00ffff"/><circle cx="557.8" cy="165.5" r="1.25" fill="#00ffff"/><circle cx="557.8" cy="170.4" r="1.25" fill="#00ffff"/><circle cx="557.8" cy="172.4" r="1.25" fill="#00ffff"/><circle cx="557.8" cy="174.3" r="1.25" fill="#00ffff"/><circle cx="553.9" cy="173.3" r="1.25" fill="#00ffff"/><circle cx="558.8" cy="180.2" r="1.25" fill="#00ffff"/><circle cx="564.7" cy="166.5" r="1.25" fill="#00ffff"/><circle cx="640.0" cy="123.2" r="1.25" fill="#00ffff"/><circle cx="640.0" cy="125.3" r="1.25" fill="#00ffff"/><circle cx="640.0" cy="127.3" r="1.25" fill="#00ffff"/><circle cx="640.0" cy="129.4" r="1.25" fill="#00ffff"/><circle cx="611.4" cy="133.0" r="1.25" fill="#00ffff"/><circle cx="536.0" cy="186.0" r="1.25" fill="#00ffff"/><circle cx="538.0" cy="184.0" r="1.25" fill="#00ffff"/><circle cx="557.8" cy="164.0" r="1.25" fill="#00ffff"/><circle cx="557.8" cy="166.4" r="1.25" fill="#00ffff"/><circle cx="557.8" cy="168.8" r="1.25" fill="#00ffff"/><circle cx="557.8" cy="171.2" r="1.25" fill="#00ffff"/><circle cx="557.8" cy="173.6" r="1.25" fill="#00ffff"/><circle cx="557.8" cy="176.0" r="1.25" fill="#00ffff"/><circle cx="569.7" cy="130.0" r="1.25" fill="#ffd700"/><circle cx="569.7" cy="133.8" r="1.25" fill="#ffd700"/><circle cx="583.8" cy="128.0" r="1.25" fill="#ffd700"/><circle cx="583.8" cy="132.0" r="1.25" fill="#ffd700"/><circle cx="598.0" cy="133.8" r="1.25" fill="#ffd700"/><circle cx="582.6" cy="142.6" r="1.25" fill="#ffd700"/><circle cx="582.6" cy="146.2" r="1.25" fill="#ffd700"/><circle cx="572.0" cy="145.0" r="1.25" fill="#ffd700"/><circle cx="580.3" cy="153.2" r="1.25" fill="#ffd700"/><circle cx="586.2" cy="159.0" r="1.25" fill="#ffd700"/><circle cx="630.9" cy="152.6" r="1.25" fill="#ffd700"/><circle cx="629.7" cy="166.2" r="1.25" fill="#ffd700"/><circle cx="616.8" cy="179.0" r="1.25" fill="#ffd700"/><circle cx="638.0" cy="181.5" r="1.25" fill="#ffd700"/><circle cx="572.0" cy="171.0" r="1.25" fill="#ffd700"/><circle cx="572.0" cy="175.0" r="1.25" fill="#ffd700"/><circle cx="572.0" cy="179.0" r="1.25" fill="#ffd700"/><circle cx="620.3" cy="133.2" r="1.25" fill="#ffd700"/><circle cx="639.0" cy="135.6" r="1.25" fill="#ffd700"/><circle cx="530.4" cy="172.2" r="1.25" fill="#ffd700"/><circle cx="555.9" cy="178.6" r="1.25" fill="#ffd700"/><circle cx="571.6" cy="170.8" r="1.25" fill="#ffd700"/><circle cx="571.6" cy="174.7" r="1.25" fill="#ffd700"/><circle cx="571.6" cy="178.6" r="1.25" fill="#ffd700"/><circle cx="585.3" cy="183.5" r="1.25" fill="#ffd700"/><circle cx="585.3" cy="190.4" r="1.25" fill="#ffd700"/><circle cx="569.8" cy="130.4" r="1.25" fill="#ffd700"/><circle cx="569.8" cy="133.3" r="1.25" fill="#ffd700"/><circle cx="583.5" cy="127.5" r="1.25" fill="#ffd700"/><circle cx="583.5" cy="132.4" r="1.25" fill="#ffd700"/><circle cx="604.1" cy="105.9" r="1.25" fill="#ffd700"/><circle cx="598.2" cy="133.3" r="1.25" fill="#ffd700"/><circle cx="581.6" cy="142.2" r="1.25" fill="#ffd700"/><circle cx="584.5" cy="142.2" r="1.25" fill="#ffd700"/><circle cx="571.8" cy="145.1" r="1.25" fill="#ffd700"/><circle cx="644.3" cy="133.3" r="1.25" fill="#ffd700"/><circle cx="644.3" cy="137.3" r="1.25" fill="#ffd700"/><circle cx="644.3" cy="141.2" r="1.25" fill="#ffd700"/><circle cx="656.1" cy="140.2" r="1.25" fill="#ffd700"/><circle cx="654.1" cy="173.5" r="1.25" fill="#ffd700"/><circle cx="638.4" cy="181.4" r="1.25" fill="#ffd700"/><circle cx="585.5" cy="183.3" r="1.25" fill="#ffd700"/><circle cx="602.2" cy="186.3" r="1.25" fill="#ffd700"/><circle cx="571.8" cy="173.5" r="1.25" fill="#ffd700"/><circle cx="571.8" cy="177.5" r="1.25" fill="#ffd700"/><circle cx="563.9" cy="169.6" r="1.25" fill="#ffd700"/><circle cx="630.6" cy="166.7" r="1.25" fill="#ffd700"/><circle cx="616.9" cy="178.4" r="1.25" fill="#ffd700"/><circle cx="612.0" cy="168.6" r="1.25" fill="#ffd700"/><circle cx="638.4" cy="116.7" r="1.25" fill="#ffd700"/><circle cx="604.4" cy="106.5" r="1.25" fill="#ffd700"/><circle cx="638.2" cy="115.3" r="1.25" fill="#ffd700"/><circle cx="638.2" cy="117.0" r="1.25" fill="#ffd700"/><circle cx="660.3" cy="92.4" r="1.25" fill="#ffd700"/><circle cx="660.3" cy="97.6" r="1.25" fill="#ffd700"/><circle cx="583.9" cy="127.6" r="1.25" fill="#ffd700"/><circle cx="583.9" cy="132.0" r="1.25" fill="#ffd700"/><circle cx="597.6" cy="133.8" r="1.25" fill="#ffd700"/><circle cx="620.2" cy="126.8" r="1.25" fill="#ffd700"/><circle cx="621.5" cy="131.2" r="1.25" fill="#ffd700"/><circle cx="644.4" cy="136.5" r="1.25" fill="#ffd700"/><circle cx="664.7" cy="148.2" r="1.25" fill="#ffd700"/><circle cx="664.7" cy="156.7" r="1.25" fill="#ffd700"/><circle cx="678.4" cy="146.9" r="1.25" fill="#ffd700"/><circle cx="678.4" cy="153.3" r="1.25" fill="#ffd700"/><circle cx="654.9" cy="173.3" r="1.25" fill="#ffd700"/><circle cx="638.2" cy="181.2" r="1.25" fill="#ffd700"/><circle cx="602.0" cy="186.1" r="1.25" fill="#ffd700"/><circle cx="644.7" cy="141.0" r="1.25" fill="#ffd700"/><circle cx="656.9" cy="140.0" r="1.25" fill="#ffd700"/><circle cx="630.4" cy="166.5" r="1.25" fill="#ffd700"/><circle cx="615.7" cy="179.2" r="1.25" fill="#ffd700"/><circle cx="547.5" cy="142.0" r="1.25" fill="#ffd700"/><circle cx="547.5" cy="148.8" r="1.25" fill="#ffd700"/><circle cx="597.6" cy="133.5" r="1.25" fill="#ffd700"/><circle cx="572.2" cy="170.8" r="1.25" fill="#ffd700"/><circle cx="572.2" cy="173.9" r="1.25" fill="#ffd700"/><circle cx="571.6" cy="179.2" r="1.25" fill="#ffd700"/><circle cx="555.9" cy="178.2" r="1.25" fill="#ffd700"/><circle cx="582.4" cy="142.0" r="1.25" fill="#ffd700"/><circle cx="583.3" cy="144.0" r="1.25" fill="#ffd700"/><circle cx="598.0" cy="148.8" r="1.25" fill="#ffd700"/><circle cx="585.3" cy="183.1" r="1.25" fill="#ffd700"/><circle cx="579.4" cy="153.7" r="1.25" fill="#ffd700"/><circle cx="672.8" cy="118.6" r="1.25" fill="#ffd700"/><circle cx="672.8" cy="120.1" r="1.25" fill="#ffd700"/><circle cx="672.8" cy="121.6" r="1.25" fill="#ffd700"/><circle cx="672.8" cy="131.0" r="1.25" fill="#ffd700"/><circle cx="678.6" cy="134.9" r="1.25" fill="#ffd700"/><circle cx="678.6" cy="147.1" r="1.25" fill="#ffd700"/><circle cx="678.6" cy="153.0" r="1.25" fill="#ffd700"/><circle cx="664.9" cy="148.0" r="1.25" fill="#ffd700"/><circle cx="664.9" cy="156.9" r="1.25" fill="#ffd700"/><circle cx="660.6" cy="92.0" r="1.25" fill="#ffd700"/><circle cx="660.6" cy="98.2" r="1.25" fill="#ffd700"/><circle cx="673.0" cy="119.4" r="1.25" fill="#ffd700"/><circle cx="673.0" cy="122.0" r="1.25" fill="#ffd700"/><circle cx="605.0" cy="150.0" r="1.25" fill="#ffd700"/><circle cx="615.0" cy="160.0" r="1.25" fill="#ffd700"/><circle cx="625.0" cy="145.0" r="1.25" fill="#ffd700"/><circle cx="635.0" cy="155.0" r="1.25" fill="#ffd700"/><circle cx="595.0" cy="165.0" r="1.25" fill="#ffd700"/><circle cx="600.0" cy="158.0" r="1.25" fill="#ffd700"/><circle cx="620.0" cy="150.0" r="1.25" fill="#ffd700"/><circle cx="610.0" cy="145.0" r="1.25" fill="#ffd700"/><circle cx="595.3" cy="106.9" r="1.25" fill="#008000"/><circle cx="595.3" cy="108.8" r="1.25" fill="#008000"/><circle cx="616.9" cy="125.5" r="1.25" fill="#008000"/><circle cx="674.7" cy="72.6" r="1.25" fill="#008000"/><circle cx="673.8" cy="76.2" r="1.25" fill="#008000"/><circle cx="673.0" cy="79.7" r="1.25" fill="#008000"/><circle cx="678.2" cy="77.0" r="1.25" fill="#008000"/><circle cx="664.1" cy="85.9" r="1.25" fill="#008000"/><circle cx="668.5" cy="88.5" r="1.25" fill="#008000"/><circle cx="671.2" cy="91.2" r="1.25" fill="#008000"/><circle cx="671.2" cy="100.0" r="1.25" fill="#008000"/><circle cx="681.8" cy="85.0" r="1.25" fill="#008000"/><circle cx="681.8" cy="87.6" r="1.25" fill="#008000"/><circle cx="684.4" cy="107.0" r="1.25" fill="#008000"/><circle cx="695.0" cy="110.6" r="1.25" fill="#008000"/><circle cx="681.8" cy="101.8" r="1.25" fill="#008000"/><circle cx="681.8" cy="104.4" r="1.25" fill="#008000"/><circle cx="695.0" cy="87.6" r="1.25" fill="#008000"/><circle cx="618.0" cy="84.4" r="1.25" fill="#008000"/><circle cx="618.0" cy="86.8" r="1.25" fill="#008000"/><circle cx="618.0" cy="89.0" r="1.25" fill="#008000"/><circle cx="618.0" cy="91.5" r="1.25" fill="#008000"/><circle cx="640.5" cy="88.8" r="1.25" fill="#008000"/><circle cx="640.5" cy="91.5" r="1.25" fill="#008000"/><circle cx="595.5" cy="106.5" r="1.25" fill="#008000"/><circle cx="595.5" cy="108.2" r="1.25" fill="#008000"/><circle cx="663.8" cy="85.3" r="1.25" fill="#008000"/><circle cx="668.2" cy="88.0" r="1.25" fill="#008000"/><circle cx="616.2" cy="125.9" r="1.25" fill="#008000"/><circle cx="694.9" cy="110.2" r="1.25" fill="#008000"/><circle cx="684.5" cy="106.9" r="1.25" fill="#008000"/><circle cx="680.6" cy="103.9" r="1.25" fill="#008000"/><circle cx="674.1" cy="74.1" r="1.25" fill="#008000"/><circle cx="673.5" cy="75.3" r="1.25" fill="#008000"/><circle cx="677.6" cy="77.6" r="1.25" fill="#008000"/><circle cx="674.7" cy="78.8" r="1.25" fill="#008000"/><circle cx="681.8" cy="84.7" r="1.25" fill="#008000"/><circle cx="681.8" cy="88.2" r="1.25" fill="#008000"/><circle cx="694.7" cy="86.5" r="1.25" fill="#008000"/><circle cx="694.7" cy="88.0" r="1.25" fill="#008000"/><circle cx="694.7" cy="89.4" r="1.25" fill="#008000"/><circle cx="671.2" cy="91.8" r="1.25" fill="#008000"/><circle cx="690.0" cy="79.3" r="1.25" fill="#0000ff"/><circle cx="683.2" cy="75.8" r="1.25" fill="#0000ff"/><circle cx="690.3" cy="82.2" r="1.25" fill="#0000ff"/><circle cx="690.0" cy="71.6" r="1.25" fill="#0000ff"/><circle cx="688.3" cy="69.8" r="1.25" fill="#0000ff"/><circle cx="693.6" cy="77.0" r="1.25" fill="#0000ff"/><circle cx="684.9" cy="82.8" r="1.25" fill="#0000ff"/><circle cx="686.9" cy="78.4" r="1.25" fill="#0000ff"/><circle cx="697.1" cy="83.4" r="1.25" fill="#0000ff"/><circle cx="697.1" cy="83.4" r="1.25" fill="#0000ff"/><circle cx="686.6" cy="72.0" r="1.25" fill="#0000ff"/><circle cx="691.8" cy="91.7" r="1.25" fill="#0000ff"/><circle cx="697.0" cy="85.9" r="1.25" fill="#0000ff"/><circle cx="695.6" cy="75.6" r="1.25" fill="#0000ff"/><circle cx="697.0" cy="85.6" r="1.25" fill="#0000ff"/><circle cx="695.1" cy="65.0" r="1.25" fill="#0000ff"/><circle cx="691.7" cy="76.7" r="1.25" fill="#0000ff"/><circle cx="693.9" cy="90.3" r="1.25" fill="#0000ff"/><circle cx="688.4" cy="83.7" r="1.25" fill="#0000ff"/><circle cx="695.1" cy="87.1" r="1.25" fill="#0000ff"/><circle cx="695.0" cy="75.4" r="1.25" fill="#0000ff"/><circle cx="696.7" cy="77.6" r="1.25" fill="#0000ff"/><circle cx="687.0" cy="80.4" r="1.25" fill="#0000ff"/><circle cx="690.0" cy="80.8" r="1.25" fill="#0000ff"/><circle cx="683.2" cy="79.3" r="1.25" fill="#0000ff"/><circle cx="685.2" cy="75.1" r="1.25" fill="#0000ff"/><circle cx="691.9" cy="82.9" r="1.25" fill="#0000ff"/><circle cx="683.1" cy="83.5" r="1.25" fill="#0000ff"/><circle cx="690.3" cy="73.4" r="1.25" fill="#0000ff"/><circle cx="693.7" cy="68.4" r="1.25" fill="#0000ff"/><circle cx="693.4" cy="75.6" r="1.25" fill="#0000ff"/><circle cx="696.7" cy="79.6" r="1.25" fill="#0000ff"/><circle cx="688.7" cy="85.4" r="1.25" fill="#0000ff"/><circle cx="691.6" cy="84.0" r="1.25" fill="#0000ff"/><circle cx="697.1" cy="67.8" r="1.25" fill="#0000ff"/><circle cx="697.3" cy="80.8" r="1.25" fill="#0000ff"/><circle cx="695.6" cy="64.2" r="1.25" fill="#0000ff"/><circle cx="693.8" cy="66.8" r="1.25" fill="#0000ff"/><circle cx="684.9" cy="76.9" r="1.25" fill="#0000ff"/><circle cx="695.5" cy="88.6" r="1.25" fill="#0000ff"/><circle cx="695.4" cy="76.6" r="1.25" fill="#0000ff"/><circle cx="691.6" cy="85.8" r="1.25" fill="#0000ff"/><circle cx="681.6" cy="77.9" r="1.25" fill="#0000ff"/><circle cx="690.3" cy="64.8" r="1.25" fill="#0000ff"/><circle cx="684.9" cy="74.3" r="1.25" fill="#0000ff"/><circle cx="698.6" cy="77.9" r="1.25" fill="#0000ff"/><circle cx="683.6" cy="83.6" r="1.25" fill="#0000ff"/><circle cx="696.9" cy="64.1" r="1.25" fill="#0000ff"/><circle cx="686.6" cy="84.6" r="1.25" fill="#0000ff"/><circle cx="692.1" cy="91.3" r="1.25" fill="#0000ff"/><circle cx="693.6" cy="79.6" r="1.25" fill="#0000ff"/><circle cx="690.3" cy="73.6" r="1.25" fill="#0000ff"/><circle cx="693.7" cy="89.4" r="1.25" fill="#0000ff"/><circle cx="695.5" cy="89.3" r="1.25" fill="#0000ff"/><circle cx="697.2" cy="74.4" r="1.25" fill="#0000ff"/><circle cx="693.5" cy="68.8" r="1.25" fill="#0000ff"/><circle cx="686.6" cy="71.1" r="1.25" fill="#0000ff"/><circle cx="697.2" cy="84.6" r="1.25" fill="#0000ff"/><circle cx="698.6" cy="84.3" r="1.25" fill="#0000ff"/><circle cx="684.8" cy="73.8" r="1.25" fill="#0000ff"/><circle cx="685.4" cy="88.5" r="1.25" fill="#0000ff"/><circle cx="687.0" cy="84.9" r="1.25" fill="#0000ff"/><circle cx="697.0" cy="85.6" r="1.25" fill="#0000ff"/><circle cx="691.9" cy="72.4" r="1.25" fill="#0000ff"/><circle cx="698.7" cy="66.0" r="1.25" fill="#0000ff"/><circle cx="693.9" cy="77.7" r="1.25" fill="#0000ff"/><circle cx="688.6" cy="89.3" r="1.25" fill="#0000ff"/><circle cx="686.5" cy="89.1" r="1.25" fill="#0000ff"/><circle cx="687.1" cy="83.2" r="1.25" fill="#0000ff"/><circle cx="685.2" cy="74.6" r="1.25" fill="#0000ff"/><circle cx="693.8" cy="84.1" r="1.25" fill="#0000ff"/><circle cx="684.8" cy="69.0" r="1.25" fill="#0000ff"/><circle cx="693.5" cy="67.5" r="1.25" fill="#0000ff"/><circle cx="693.7" cy="79.5" r="1.25" fill="#0000ff"/><circle cx="683.7" cy="76.3" r="1.25" fill="#0000ff"/><circle cx="693.8" cy="69.5" r="1.25" fill="#0000ff"/><circle cx="688.5" cy="82.4" r="1.25" fill="#0000ff"/><circle cx="693.9" cy="63.9" r="1.25" fill="#0000ff"/><circle cx="686.5" cy="86.8" r="1.25" fill="#0000ff"/><circle cx="695.5" cy="68.0" r="1.25" fill="#0000ff"/><circle cx="695.2" cy="81.8" r="1.25" fill="#0000ff"/><circle cx="685.2" cy="81.4" r="1.25" fill="#0000ff"/><circle cx="693.4" cy="66.6" r="1.25" fill="#0000ff"/><circle cx="693.4" cy="78.7" r="1.25" fill="#0000ff"/><circle cx="693.8" cy="65.3" r="1.25" fill="#0000ff"/><circle cx="685.1" cy="72.4" r="1.25" fill="#0000ff"/><circle cx="683.6" cy="68.7" r="1.25" fill="#0000ff"/><circle cx="687.0" cy="72.8" r="1.25" fill="#0000ff"/><circle cx="688.6" cy="72.3" r="1.25" fill="#0000ff"/><circle cx="689.9" cy="88.0" r="1.25" fill="#0000ff"/><circle cx="693.4" cy="86.9" r="1.25" fill="#0000ff"/><circle cx="690.0" cy="83.1" r="1.25" fill="#0000ff"/><circle cx="683.2" cy="75.9" r="1.25" fill="#0000ff"/><circle cx="684.9" cy="74.6" r="1.25" fill="#0000ff"/><circle cx="683.4" cy="72.2" r="1.25" fill="#0000ff"/><circle cx="698.4" cy="78.2" r="1.25" fill="#0000ff"/><circle cx="685.1" cy="84.1" r="1.25" fill="#0000ff"/><circle cx="697.1" cy="75.3" r="1.25" fill="#0000ff"/><circle cx="683.3" cy="75.0" r="1.25" fill="#0000ff"/><circle cx="685.0" cy="81.6" r="1.25" fill="#0000ff"/><circle cx="695.1" cy="77.7" r="1.25" fill="#0000ff"/><circle cx="690.3" cy="79.8" r="1.25" fill="#0000ff"/><circle cx="683.7" cy="85.9" r="1.25" fill="#0000ff"/><circle cx="695.2" cy="87.6" r="1.25" fill="#0000ff"/><circle cx="696.8" cy="66.6" r="1.25" fill="#0000ff"/><circle cx="691.6" cy="88.9" r="1.25" fill="#0000ff"/><circle cx="691.8" cy="90.1" r="1.25" fill="#0000ff"/><circle cx="685.1" cy="75.8" r="1.25" fill="#0000ff"/><circle cx="692.1" cy="67.7" r="1.25" fill="#0000ff"/><circle cx="688.6" cy="71.6" r="1.25" fill="#0000ff"/><circle cx="686.8" cy="75.1" r="1.25" fill="#0000ff"/><circle cx="693.4" cy="65.3" r="1.25" fill="#0000ff"/><circle cx="683.4" cy="77.2" r="1.25" fill="#0000ff"/><circle cx="696.8" cy="62.8" r="1.25" fill="#0000ff"/><circle cx="685.1" cy="79.2" r="1.25" fill="#0000ff"/><circle cx="688.6" cy="88.5" r="1.25" fill="#0000ff"/><circle cx="698.4" cy="73.6" r="1.25" fill="#0000ff"/><circle cx="696.7" cy="64.2" r="1.25" fill="#0000ff"/><circle cx="687.1" cy="70.0" r="1.25" fill="#0000ff"/><circle cx="697.0" cy="74.0" r="1.25" fill="#0000ff"/><circle cx="697.1" cy="86.0" r="1.25" fill="#0000ff"/><circle cx="690.0" cy="64.6" r="1.25" fill="#0000ff"/><circle cx="693.8" cy="79.2" r="1.25" fill="#0000ff"/><circle cx="685.0" cy="82.5" r="1.25" fill="#0000ff"/><circle cx="685.1" cy="72.4" r="1.25" fill="#0000ff"/><circle cx="693.7" cy="63.3" r="1.25" fill="#0000ff"/><circle cx="692.0" cy="75.6" r="1.25" fill="#0000ff"/><circle cx="693.7" cy="83.0" r="1.25" fill="#0000ff"/><circle cx="685.4" cy="74.3" r="1.25" fill="#0000ff"/><circle cx="685.4" cy="73.7" r="1.25" fill="#0000ff"/><circle cx="697.1" cy="68.2" r="1.25" fill="#0000ff"/><circle cx="688.7" cy="81.6" r="1.25" fill="#0000ff"/><circle cx="688.2" cy="74.0" r="1.25" fill="#0000ff"/><circle cx="691.9" cy="90.2" r="1.25" fill="#0000ff"/><circle cx="688.5" cy="82.8" r="1.25" fill="#0000ff"/><circle cx="684.8" cy="75.9" r="1.25" fill="#0000ff"/><circle cx="693.5" cy="66.0" r="1.25" fill="#0000ff"/><circle cx="692.0" cy="80.7" r="1.25" fill="#0000ff"/><circle cx="698.9" cy="67.1" r="1.25" fill="#0000ff"/><circle cx="687.0" cy="68.9" r="1.25" fill="#0000ff"/><circle cx="692.1" cy="87.3" r="1.25" fill="#0000ff"/><circle cx="691.6" cy="67.1" r="1.25" fill="#0000ff"/><circle cx="690.1" cy="83.5" r="1.25" fill="#0000ff"/><circle cx="687.1" cy="83.0" r="1.25" fill="#0000ff"/><circle cx="698.6" cy="65.6" r="1.25" fill="#0000ff"/><circle cx="690.2" cy="70.9" r="1.25" fill="#0000ff"/><circle cx="689.9" cy="69.0" r="1.25" fill="#0000ff"/><circle cx="691.8" cy="82.6" r="1.25" fill="#0000ff"/><circle cx="695.2" cy="83.6" r="1.25" fill="#0000ff"/><circle cx="690.5" cy="66.8" r="1.25" fill="#0000ff"/><circle cx="700.2" cy="61.0" r="1.25" fill="#0000ff"/><circle cx="702.2" cy="67.3" r="1.25" fill="#0000ff"/><circle cx="702.3" cy="75.3" r="1.25" fill="#0000ff"/><circle cx="697.1" cy="61.8" r="1.25" fill="#0000ff"/><circle cx="700.2" cy="62.6" r="1.25" fill="#0000ff"/><circle cx="700.5" cy="62.1" r="1.25" fill="#0000ff"/><circle cx="698.7" cy="64.9" r="1.25" fill="#0000ff"/><circle cx="700.1" cy="73.8" r="1.25" fill="#0000ff"/><circle cx="702.0" cy="64.2" r="1.25" fill="#0000ff"/><circle cx="700.5" cy="73.1" r="1.25" fill="#0000ff"/><circle cx="701.9" cy="65.0" r="1.25" fill="#0000ff"/><circle cx="698.8" cy="66.0" r="1.25" fill="#0000ff"/><circle cx="697.0" cy="62.3" r="1.25" fill="#0000ff"/><circle cx="700.5" cy="66.9" r="1.25" fill="#0000ff"/><circle cx="700.2" cy="74.7" r="1.25" fill="#0000ff"/><circle cx="698.5" cy="72.7" r="1.25" fill="#0000ff"/><circle cx="698.8" cy="69.1" r="1.25" fill="#0000ff"/><circle cx="702.1" cy="67.1" r="1.25" fill="#0000ff"/><circle cx="603.8" cy="132.6" r="1.25" fill="#0000ff"/><circle cx="603.8" cy="138.0" r="1.25" fill="#0000ff"/><circle cx="612.0" cy="129.7" r="1.25" fill="#0000ff"/><circle cx="616.2" cy="128.5" r="1.25" fill="#0000ff"/><circle cx="616.2" cy="130.9" r="1.25" fill="#0000ff"/><circle cx="621.5" cy="134.4" r="1.25" fill="#0000ff"/><circle cx="636.8" cy="135.6" r="1.25" fill="#0000ff"/><circle cx="620.3" cy="139.1" r="1.25" fill="#0000ff"/><circle cx="601.5" cy="149.7" r="1.25" fill="#0000ff"/><circle cx="606.2" cy="162.6" r="1.25" fill="#0000ff"/><circle cx="628.6" cy="103.0" r="1.25" fill="#0000ff"/><circle cx="604.1" cy="132.4" r="1.25" fill="#0000ff"/><circle cx="604.1" cy="137.3" r="1.25" fill="#0000ff"/><circle cx="612.0" cy="129.4" r="1.25" fill="#0000ff"/><circle cx="616.9" cy="129.4" r="1.25" fill="#0000ff"/><circle cx="618.8" cy="125.5" r="1.25" fill="#0000ff"/><circle cx="638.4" cy="135.3" r="1.25" fill="#0000ff"/><circle cx="640.4" cy="136.3" r="1.25" fill="#0000ff"/><circle cx="654.1" cy="134.3" r="1.25" fill="#0000ff"/><circle cx="628.6" cy="120.6" r="1.25" fill="#0000ff"/><circle cx="655.1" cy="125.5" r="1.25" fill="#0000ff"/><circle cx="658.0" cy="127.5" r="1.25" fill="#0000ff"/><circle cx="602.2" cy="149.0" r="1.25" fill="#0000ff"/><circle cx="686.5" cy="57.6" r="1.25" fill="#0000ff"/><circle cx="665.9" cy="100.0" r="1.25" fill="#0000ff"/><circle cx="663.2" cy="91.2" r="1.25" fill="#0000ff"/><circle cx="665.0" cy="92.0" r="1.25" fill="#0000ff"/><circle cx="680.9" cy="95.6" r="1.25" fill="#0000ff"/><circle cx="696.8" cy="92.9" r="1.25" fill="#0000ff"/><circle cx="653.5" cy="108.8" r="1.25" fill="#0000ff"/><circle cx="616.2" cy="73.5" r="1.25" fill="#0000ff"/><circle cx="642.3" cy="74.4" r="1.25" fill="#0000ff"/><circle cx="646.4" cy="96.4" r="1.25" fill="#0000ff"/><circle cx="628.2" cy="102.6" r="1.25" fill="#0000ff"/><circle cx="628.5" cy="120.6" r="1.25" fill="#0000ff"/><circle cx="654.1" cy="108.2" r="1.25" fill="#0000ff"/><circle cx="663.0" cy="90.6" r="1.25" fill="#0000ff"/><circle cx="663.0" cy="92.4" r="1.25" fill="#0000ff"/><circle cx="666.5" cy="99.8" r="1.25" fill="#0000ff"/><circle cx="604.7" cy="133.0" r="1.25" fill="#0000ff"/><circle cx="604.7" cy="137.3" r="1.25" fill="#0000ff"/><circle cx="618.0" cy="125.0" r="1.25" fill="#0000ff"/><circle cx="655.9" cy="127.6" r="1.25" fill="#0000ff"/><circle cx="659.4" cy="127.6" r="1.25" fill="#0000ff"/><circle cx="661.2" cy="128.5" r="1.25" fill="#0000ff"/><circle cx="646.2" cy="133.0" r="1.25" fill="#0000ff"/><circle cx="654.1" cy="133.8" r="1.25" fill="#0000ff"/><circle cx="663.0" cy="134.7" r="1.25" fill="#0000ff"/><circle cx="638.2" cy="134.7" r="1.25" fill="#0000ff"/><circle cx="638.2" cy="136.5" r="1.25" fill="#0000ff"/><circle cx="638.2" cy="138.2" r="1.25" fill="#0000ff"/><circle cx="622.4" cy="138.2" r="1.25" fill="#0000ff"/><circle cx="676.7" cy="106.9" r="1.25" fill="#0000ff"/><circle cx="682.6" cy="149.0" r="1.25" fill="#0000ff"/><circle cx="661.0" cy="128.4" r="1.25" fill="#0000ff"/><circle cx="665.9" cy="100.0" r="1.25" fill="#0000ff"/><circle cx="672.8" cy="123.2" r="1.25" fill="#0000ff"/><circle cx="686.5" cy="57.6" r="1.25" fill="#0000ff"/><circle cx="697.0" cy="93.5" r="1.25" fill="#0000ff"/><circle cx="680.6" cy="95.3" r="1.25" fill="#0000ff"/><circle cx="677.0" cy="98.8" r="1.25" fill="#0000ff"/><circle cx="681.8" cy="98.8" r="1.25" fill="#0000ff"/><circle cx="672.4" cy="78.8" r="1.25" fill="#0000ff"/><circle cx="677.0" cy="74.1" r="1.25" fill="#0000ff"/><circle cx="676.5" cy="99.1" r="1.25" fill="#0000ff"/><circle cx="676.5" cy="107.0" r="1.25" fill="#0000ff"/><circle cx="676.5" cy="56.0" r="1.25" fill="#0000ff"/><circle cx="676.5" cy="59.6" r="1.25" fill="#0000ff"/><circle cx="676.5" cy="63.3" r="1.25" fill="#0000ff"/><circle cx="676.5" cy="66.9" r="1.25" fill="#0000ff"/><circle cx="676.5" cy="70.6" r="1.25" fill="#0000ff"/><circle cx="701.2" cy="59.4" r="1.25" fill="#0000ff"/><circle cx="701.2" cy="62.2" r="1.25" fill="#0000ff"/><circle cx="701.2" cy="65.0" r="1.25" fill="#0000ff"/><circle cx="701.2" cy="67.9" r="1.25" fill="#0000ff"/><circle cx="701.2" cy="70.7" r="1.25" fill="#0000ff"/><circle cx="701.2" cy="73.5" r="1.25" fill="#0000ff"/><circle cx="682.6" cy="94.7" r="1.25" fill="#0000ff"/><circle cx="682.6" cy="98.5" r="1.25" fill="#0000ff"/><circle cx="682.6" cy="102.3" r="1.25" fill="#0000ff"/><circle cx="682.6" cy="106.2" r="1.25" fill="#0000ff"/><circle cx="682.6" cy="110.0" r="1.25" fill="#0000ff"/><circle cx="682.6" cy="113.8" r="1.25" fill="#0000ff"/><circle cx="682.6" cy="117.6" r="1.25" fill="#0000ff"/><circle cx="616.2" cy="125.0" r="1.25" fill="#0000ff"/><circle cx="616.2" cy="127.7" r="1.25" fill="#0000ff"/><circle cx="616.2" cy="130.3" r="1.25" fill="#0000ff"/><circle cx="658.5" cy="76.5" r="1.25" fill="#0000ff"/><circle cx="658.5" cy="78.8" r="1.25" fill="#0000ff"/><circle cx="658.5" cy="81.2" r="1.25" fill="#0000ff"/><circle cx="658.5" cy="83.5" r="1.25" fill="#0000ff"/><circle cx="662.6" cy="76.5" r="1.25" fill="#0000ff"/><circle cx="662.6" cy="79.2" r="1.25" fill="#0000ff"/><circle cx="662.6" cy="81.8" r="1.25" fill="#0000ff"/></g>
<line x1="473.40" y1="292.03" x2="735.26" y2="24.02" stroke="#000" stroke-width="2.1" stroke-dasharray="7.5 3"/>
<circle cx="478.1" cy="15.30" r="3.1" fill="#ff0000"/>
<text transform="translate(486.20,20.50) scale(1,1.02)" font-size="15" text-anchor="start" font-weight="normal" fill="#000" >Asp</text>
<circle cx="478.1" cy="36.96" r="3.1" fill="#ff00ff"/>
<text transform="translate(486.20,42.16) scale(1,1.02)" font-size="15" text-anchor="start" font-weight="normal" fill="#000" >Glu</text>
<circle cx="478.1" cy="58.62" r="3.1" fill="#00ffff"/>
<text transform="translate(487.80,63.82) scale(1,1.02)" font-size="15" text-anchor="start" font-weight="normal" fill="#000" >His</text>
<circle cx="478.1" cy="80.28" r="3.1" fill="#ffd700"/>
<text transform="translate(486.20,85.48) scale(1,1.02)" font-size="15" text-anchor="start" font-weight="normal" fill="#000" >Cys</text>
<circle cx="478.1" cy="101.94" r="3.1" fill="#008000"/>
<text transform="translate(486.20,107.14) scale(1,1.02)" font-size="15" text-anchor="start" font-weight="normal" fill="#000" >Tyr</text>
<circle cx="478.1" cy="123.60" r="3.1" fill="#0000ff"/>
<text transform="translate(486.20,128.80) scale(1,1.02)" font-size="15" text-anchor="start" font-weight="normal" fill="#000" >Lys</text>
<text transform="translate(-1.00,358.30) scale(1,1.02)" font-size="22" text-anchor="start" font-weight="bold" fill="#000" >C</text>
<rect x="63.20" y="348.20" width="17.80" height="7.50" fill="#151515" />
<text transform="translate(88.30,356.20) scale(1,1.02)" font-size="12" text-anchor="start" font-weight="normal" fill="#000" >Precision</text>
<rect x="169.7" y="347.6" width="18.4" height="8.6" fill="#fff" stroke="#000" stroke-width="1.1"/>
<clipPath id="rc"><rect x="169.7" y="347.6" width="18.4" height="8.6"/></clipPath>
<g clip-path="url(#rc)" stroke="#000" stroke-width="1.1"><line x1="167.6" y1="349.0" x2="174.2" y2="358.3"/><line x1="176.6" y1="346.4" x2="184.2" y2="357.2"/><line x1="187" y1="346.5" x2="194" y2="357.5"/></g>
<text transform="translate(194.60,356.20) scale(1,1.02)" font-size="12" text-anchor="start" font-weight="normal" fill="#000" >Recall</text>
<line x1="53.20" y1="461.34" x2="740.80" y2="461.34" stroke="#c6c6c6" stroke-width="1.3" />
<line x1="53.20" y1="437.48" x2="740.80" y2="437.48" stroke="#c6c6c6" stroke-width="1.3" />
<line x1="53.20" y1="413.62" x2="740.80" y2="413.62" stroke="#c6c6c6" stroke-width="1.3" />
<line x1="53.20" y1="389.76" x2="740.80" y2="389.76" stroke="#c6c6c6" stroke-width="1.3" />
<rect x="53.20" y="365.90" width="687.60" height="119.30" fill="none" stroke="#c6c6c6" stroke-width="1.3"/>
<text transform="translate(32.40,489.90) scale(1,1.02)" font-size="12" text-anchor="start" font-weight="normal" fill="#000" >0.0</text>
<text transform="translate(32.40,466.04) scale(1,1.02)" font-size="12" text-anchor="start" font-weight="normal" fill="#000" >0.2</text>
<text transform="translate(32.40,442.18) scale(1,1.02)" font-size="12" text-anchor="start" font-weight="normal" fill="#000" >0.4</text>
<text transform="translate(32.40,418.32) scale(1,1.02)" font-size="12" text-anchor="start" font-weight="normal" fill="#000" >0.6</text>
<text transform="translate(32.40,394.46) scale(1,1.02)" font-size="12" text-anchor="start" font-weight="normal" fill="#000" >0.8</text>
<text transform="translate(32.40,370.60) scale(1,1.02)" font-size="12" text-anchor="start" font-weight="normal" fill="#000" >1.0</text>
<text transform="translate(25.0,425.2) rotate(-90) scale(1,1.02)" font-size="12" text-anchor="middle">Precision/Recall</text>
<rect x="62.30" y="372.46" width="8.70" height="112.74" fill="#ff0000" />
<rect x="71.00" y="384.63" width="8.70" height="100.57" fill="#c0c0c0" />
<defs><pattern id="hp1" patternUnits="userSpaceOnUse" width="20" height="10.14" patternTransform="translate(88.40,4.83) skewY(-37.2)"><line x1="-1" y1="5.07" x2="21" y2="5.07" stroke="#ff0000" stroke-width="1.3"/></pattern></defs>
<rect x="88.60" y="393.64" width="8.30" height="91.56" fill="url(#hp1)" stroke="#ff0000" stroke-width="1.0"/>
<defs><pattern id="hp2" patternUnits="userSpaceOnUse" width="20" height="10.14" patternTransform="translate(97.10,4.83) skewY(-37.2)"><line x1="-1" y1="5.07" x2="21" y2="5.07" stroke="#c2c2c2" stroke-width="1.3"/></pattern></defs>
<rect x="97.30" y="452.45" width="8.30" height="32.75" fill="url(#hp2)" stroke="#c2c2c2" stroke-width="1.0"/>
<text transform="translate(83.80,506.0) scale(1,1.02)" font-size="15" text-anchor="middle">Asp<tspan font-size="9.5" dx="0.8" dy="-6.3">0</tspan></text>
<rect x="126.70" y="368.29" width="8.70" height="116.91" fill="#ff0000" />
<rect x="135.40" y="370.08" width="8.70" height="115.12" fill="#c0c0c0" />
<defs><pattern id="hp3" patternUnits="userSpaceOnUse" width="20" height="10.14" patternTransform="translate(152.80,4.83) skewY(-37.2)"><line x1="-1" y1="5.07" x2="21" y2="5.07" stroke="#ff0000" stroke-width="1.3"/></pattern></defs>
<rect x="153.00" y="366.20" width="8.30" height="119.00" fill="url(#hp3)" stroke="#ff0000" stroke-width="1.0"/>
<defs><pattern id="hp4" patternUnits="userSpaceOnUse" width="20" height="10.14" patternTransform="translate(161.50,4.83) skewY(-37.2)"><line x1="-1" y1="5.07" x2="21" y2="5.07" stroke="#c2c2c2" stroke-width="1.3"/></pattern></defs>
<rect x="161.70" y="366.20" width="8.30" height="119.00" fill="url(#hp4)" stroke="#c2c2c2" stroke-width="1.0"/>
<text transform="translate(149.70,506.0) scale(1,1.02)" font-size="15" text-anchor="middle">Asp<tspan font-size="9.5" dx="0.8" dy="-6.3">-</tspan></text>
<rect x="201.20" y="365.90" width="8.70" height="119.30" fill="#ff00ff" />
<rect x="209.90" y="405.27" width="8.70" height="79.93" fill="#c0c0c0" />
<defs><pattern id="hp5" patternUnits="userSpaceOnUse" width="20" height="10.14" patternTransform="translate(227.30,4.83) skewY(-37.2)"><line x1="-1" y1="5.07" x2="21" y2="5.07" stroke="#ff00ff" stroke-width="1.3"/></pattern></defs>
<rect x="227.50" y="388.27" width="8.30" height="96.93" fill="url(#hp5)" stroke="#ff00ff" stroke-width="1.0"/>
<defs><pattern id="hp6" patternUnits="userSpaceOnUse" width="20" height="10.14" patternTransform="translate(236.00,4.83) skewY(-37.2)"><line x1="-1" y1="5.07" x2="21" y2="5.07" stroke="#c2c2c2" stroke-width="1.3"/></pattern></defs>
<rect x="236.20" y="375.15" width="8.30" height="110.05" fill="url(#hp6)" stroke="#c2c2c2" stroke-width="1.0"/>
<text transform="translate(222.30,506.0) scale(1,1.02)" font-size="15" text-anchor="middle">Glu<tspan font-size="9.5" dx="0.8" dy="-6.3">0</tspan></text>
<rect x="262.10" y="365.90" width="8.70" height="119.30" fill="#ff00ff" />
<rect x="270.80" y="365.90" width="8.70" height="119.30" fill="#c0c0c0" />
<defs><pattern id="hp7" patternUnits="userSpaceOnUse" width="20" height="10.14" patternTransform="translate(288.20,4.83) skewY(-37.2)"><line x1="-1" y1="5.07" x2="21" y2="5.07" stroke="#ff00ff" stroke-width="1.3"/></pattern></defs>
<rect x="288.40" y="366.20" width="8.30" height="119.00" fill="url(#hp7)" stroke="#ff00ff" stroke-width="1.0"/>
<defs><pattern id="hp8" patternUnits="userSpaceOnUse" width="20" height="10.14" patternTransform="translate(296.90,4.83) skewY(-37.2)"><line x1="-1" y1="5.07" x2="21" y2="5.07" stroke="#c2c2c2" stroke-width="1.3"/></pattern></defs>
<rect x="297.10" y="368.59" width="8.30" height="116.61" fill="url(#hp8)" stroke="#c2c2c2" stroke-width="1.0"/>
<text transform="translate(285.30,506.0) scale(1,1.02)" font-size="15" text-anchor="middle">Glu<tspan font-size="9.5" dx="0.8" dy="-6.3">-</tspan></text>
<rect x="347.90" y="404.08" width="8.70" height="81.12" fill="#ffd700" />
<rect x="356.60" y="429.13" width="8.70" height="56.07" fill="#c0c0c0" />
<defs><pattern id="hp9" patternUnits="userSpaceOnUse" width="20" height="10.14" patternTransform="translate(374.00,4.83) skewY(-37.2)"><line x1="-1" y1="5.07" x2="21" y2="5.07" stroke="#ffd700" stroke-width="1.3"/></pattern></defs>
<rect x="374.20" y="407.95" width="8.30" height="77.25" fill="url(#hp9)" stroke="#ffd700" stroke-width="1.0"/>
<defs><pattern id="hp10" patternUnits="userSpaceOnUse" width="20" height="10.14" patternTransform="translate(382.70,4.83) skewY(-37.2)"><line x1="-1" y1="5.07" x2="21" y2="5.07" stroke="#c2c2c2" stroke-width="1.3"/></pattern></defs>
<rect x="382.90" y="366.20" width="8.30" height="119.00" fill="url(#hp10)" stroke="#c2c2c2" stroke-width="1.0"/>
<text transform="translate(371.30,506.0) scale(1,1.02)" font-size="15" text-anchor="middle">Cys<tspan font-size="9.5" dx="0.8" dy="-6.3">0</tspan></text>
<rect x="409.00" y="398.71" width="8.70" height="86.49" fill="#ffd700" />
<text x="417.50" y="484.30" font-size="8.5" fill="#6a6a6a" style="stroke:none">NaN</text>
<defs><pattern id="hp11" patternUnits="userSpaceOnUse" width="20" height="10.14" patternTransform="translate(435.10,4.83) skewY(-37.2)"><line x1="-1" y1="5.07" x2="21" y2="5.07" stroke="#ffd700" stroke-width="1.3"/></pattern></defs>
<rect x="435.30" y="394.83" width="8.30" height="90.37" fill="url(#hp11)" stroke="#ffd700" stroke-width="1.0"/>
<rect x="443.80" y="484.10" width="8.70" height="2.40" fill="#b2b2b2" />
<text transform="translate(430.90,506.0) scale(1,1.02)" font-size="15" text-anchor="middle">Cys<tspan font-size="9.5" dx="0.8" dy="-6.3">-</tspan></text>
<rect x="494.40" y="365.90" width="8.70" height="119.30" fill="#00ffff" />
<rect x="503.10" y="413.62" width="8.70" height="71.58" fill="#c0c0c0" />
<defs><pattern id="hp12" patternUnits="userSpaceOnUse" width="20" height="10.14" patternTransform="translate(520.50,-3.87) skewY(-37.2)"><line x1="-1" y1="5.07" x2="21" y2="5.07" stroke="#00ffff" stroke-width="1.3"/></pattern></defs>
<rect x="520.70" y="440.52" width="8.30" height="44.68" fill="url(#hp12)" stroke="#00ffff" stroke-width="1.0"/>
<defs><pattern id="hp13" patternUnits="userSpaceOnUse" width="20" height="10.14" patternTransform="translate(529.20,-3.87) skewY(-37.2)"><line x1="-1" y1="5.07" x2="21" y2="5.07" stroke="#c2c2c2" stroke-width="1.3"/></pattern></defs>
<rect x="529.40" y="470.71" width="8.30" height="14.49" fill="url(#hp13)" stroke="#c2c2c2" stroke-width="1.0"/>
<text transform="translate(517.90,506.0) scale(1,1.02)" font-size="15" text-anchor="middle">His<tspan font-size="9.5" dx="0.8" dy="-6.3">+</tspan></text>
<rect x="555.20" y="373.06" width="8.70" height="112.14" fill="#00ffff" />
<rect x="563.90" y="383.79" width="8.70" height="101.41" fill="#c0c0c0" />
<defs><pattern id="hp14" patternUnits="userSpaceOnUse" width="20" height="10.14" patternTransform="translate(581.30,-3.87) skewY(-37.2)"><line x1="-1" y1="5.07" x2="21" y2="5.07" stroke="#00ffff" stroke-width="1.3"/></pattern></defs>
<rect x="581.50" y="366.20" width="8.30" height="119.00" fill="url(#hp14)" stroke="#00ffff" stroke-width="1.0"/>
<defs><pattern id="hp15" patternUnits="userSpaceOnUse" width="20" height="10.14" patternTransform="translate(590.00,-3.87) skewY(-37.2)"><line x1="-1" y1="5.07" x2="21" y2="5.07" stroke="#c2c2c2" stroke-width="1.3"/></pattern></defs>
<rect x="590.20" y="368.59" width="8.30" height="116.61" fill="url(#hp15)" stroke="#c2c2c2" stroke-width="1.0"/>
<text transform="translate(578.20,506.0) scale(1,1.02)" font-size="15" text-anchor="middle">His<tspan font-size="9.5" dx="0.8" dy="-6.3">0</tspan></text>
<rect x="636.90" y="365.90" width="8.70" height="119.30" fill="#0000ff" />
<rect x="645.60" y="368.29" width="8.70" height="116.91" fill="#c0c0c0" />
<defs><pattern id="hp16" patternUnits="userSpaceOnUse" width="20" height="10.14" patternTransform="translate(663.00,-1.97) skewY(-37.2)"><line x1="-1" y1="5.07" x2="21" y2="5.07" stroke="#0000ff" stroke-width="1.3"/></pattern></defs>
<rect x="663.20" y="366.20" width="8.30" height="119.00" fill="url(#hp16)" stroke="#0000ff" stroke-width="1.0"/>
<defs><pattern id="hp17" patternUnits="userSpaceOnUse" width="20" height="10.14" patternTransform="translate(671.70,-1.97) skewY(-37.2)"><line x1="-1" y1="5.07" x2="21" y2="5.07" stroke="#c2c2c2" stroke-width="1.3"/></pattern></defs>
<rect x="671.90" y="366.20" width="8.30" height="119.00" fill="url(#hp17)" stroke="#c2c2c2" stroke-width="1.0"/>
<text transform="translate(652.40,506.0) scale(1,1.02)" font-size="15" text-anchor="middle">Lys<tspan font-size="9.5" dx="0.8" dy="-6.3">+</tspan></text>
<rect x="697.60" y="365.90" width="8.70" height="119.30" fill="#0000ff" />
<rect x="706.30" y="484.10" width="8.70" height="2.40" fill="#b2b2b2" />
<defs><pattern id="hp18" patternUnits="userSpaceOnUse" width="20" height="10.14" patternTransform="translate(723.70,-1.97) skewY(-37.2)"><line x1="-1" y1="5.07" x2="21" y2="5.07" stroke="#0000ff" stroke-width="1.3"/></pattern></defs>
<rect x="723.90" y="390.06" width="8.30" height="95.14" fill="url(#hp18)" stroke="#0000ff" stroke-width="1.0"/>
<rect x="732.40" y="484.10" width="8.70" height="2.40" fill="#b2b2b2" />
<text transform="translate(714.30,506.0) scale(1,1.02)" font-size="15" text-anchor="middle">Lys<tspan font-size="9.5" dx="0.8" dy="-6.3">0</tspan></text>
</svg></body></html>
